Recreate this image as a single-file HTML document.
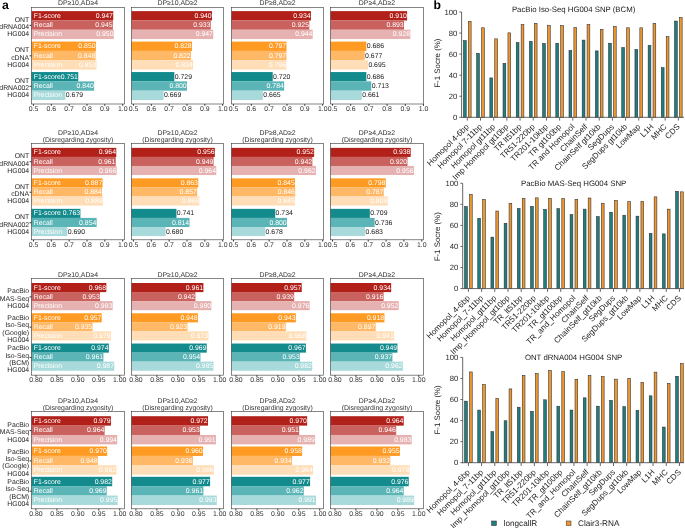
<!DOCTYPE html>
<html><head><meta charset="utf-8"><title>figure</title>
<style>
html,body{margin:0;padding:0;background:#fff;}
body{width:685px;height:528px;overflow:hidden;}
svg{display:block;font-family:"Liberation Sans", sans-serif;will-change:transform;text-rendering:geometricPrecision;}
</style></head>
<body>
<svg width="685" height="528" viewBox="0 0 685 528">
<rect x="0" y="0" width="685" height="528" fill="#ffffff"/>
<text x="77.97" y="4.90" font-size="6.9" text-anchor="middle" fill="#333333" >DP≥10,AD≥4</text>
<rect x="31.48" y="11.12" width="81.76" height="9.35" fill="#B2201A" />
<text x="33.68" y="17.87" font-size="6.9" text-anchor="start" fill="#FFFFFF" >F1-score</text>
<text x="112.94" y="17.87" font-size="6.9" text-anchor="end" fill="#FFFFFF" >0.947</text>
<rect x="31.48" y="20.42" width="81.40" height="9.35" fill="#C9625E" />
<text x="33.68" y="27.17" font-size="6.9" text-anchor="start" fill="#FFFFFF" >Recall</text>
<text x="112.58" y="27.17" font-size="6.9" text-anchor="end" fill="#FFFFFF" >0.945</text>
<rect x="31.48" y="29.72" width="82.29" height="9.35" fill="#E6B2B1" />
<text x="33.68" y="36.47" font-size="6.9" text-anchor="start" fill="#FFFFFF" >Precision</text>
<text x="113.47" y="36.47" font-size="6.9" text-anchor="end" fill="#FFFFFF" >0.950</text>
<rect x="31.48" y="41.59" width="64.44" height="9.35" fill="#FF9A22" />
<text x="33.68" y="48.34" font-size="6.9" text-anchor="start" fill="#FFFFFF" >F1-score</text>
<text x="95.62" y="48.34" font-size="6.9" text-anchor="end" fill="#FFFFFF" >0.850</text>
<rect x="31.48" y="50.89" width="64.09" height="9.35" fill="#FFB866" />
<text x="33.68" y="57.64" font-size="6.9" text-anchor="start" fill="#FFFFFF" >Recall</text>
<text x="95.27" y="57.64" font-size="6.9" text-anchor="end" fill="#FFFFFF" >0.848</text>
<rect x="31.48" y="60.19" width="64.98" height="9.35" fill="#FFDDB6" />
<text x="33.68" y="66.94" font-size="6.9" text-anchor="start" fill="#FFFFFF" >Precision</text>
<text x="96.16" y="66.94" font-size="6.9" text-anchor="end" fill="#FFFFFF" >0.853</text>
<rect x="31.48" y="72.06" width="46.77" height="9.35" fill="#138A8C" />
<text x="33.68" y="78.81" font-size="6.9" text-anchor="start" fill="#FFFFFF" >F1-score</text>
<text x="77.95" y="78.81" font-size="6.9" text-anchor="end" fill="#FFFFFF" >0.751</text>
<rect x="31.48" y="81.36" width="62.66" height="9.35" fill="#5BB5B7" />
<text x="33.68" y="88.11" font-size="6.9" text-anchor="start" fill="#FFFFFF" >Recall</text>
<text x="93.84" y="88.11" font-size="6.9" text-anchor="end" fill="#FFFFFF" >0.840</text>
<rect x="31.48" y="90.66" width="33.92" height="9.35" fill="#A9DADB" />
<text x="33.68" y="97.41" font-size="6.9" text-anchor="start" fill="#FFFFFF" >Precision</text>
<text x="65.80" y="97.41" font-size="6.9" text-anchor="start" fill="#1A1A1A" >0.679</text>
<rect x="31.48" y="7.50" width="92.97" height="96.50" fill="none" stroke="#3A3A3A" stroke-width="0.62"/>
<line x1="33.45" y1="104.00" x2="33.45" y2="105.80" stroke="#333333" stroke-width="1.0"/>
<text x="33.45" y="110.95" font-size="6.9" text-anchor="middle" fill="#333333" >0.5</text>
<line x1="51.30" y1="104.00" x2="51.30" y2="105.80" stroke="#333333" stroke-width="1.0"/>
<text x="51.30" y="110.95" font-size="6.9" text-anchor="middle" fill="#333333" >0.6</text>
<line x1="69.15" y1="104.00" x2="69.15" y2="105.80" stroke="#333333" stroke-width="1.0"/>
<text x="69.15" y="110.95" font-size="6.9" text-anchor="middle" fill="#333333" >0.7</text>
<line x1="87.00" y1="104.00" x2="87.00" y2="105.80" stroke="#333333" stroke-width="1.0"/>
<text x="87.00" y="110.95" font-size="6.9" text-anchor="middle" fill="#333333" >0.8</text>
<line x1="104.85" y1="104.00" x2="104.85" y2="105.80" stroke="#333333" stroke-width="1.0"/>
<text x="104.85" y="110.95" font-size="6.9" text-anchor="middle" fill="#333333" >0.9</text>
<line x1="122.70" y1="104.00" x2="122.70" y2="105.80" stroke="#333333" stroke-width="1.0"/>
<text x="122.70" y="110.95" font-size="6.9" text-anchor="middle" fill="#333333" >1.0</text>
<line x1="29.58" y1="25.37" x2="31.48" y2="25.37" stroke="#333333" stroke-width="1.0"/>
<text x="29.18" y="21.87" font-size="6.9" text-anchor="end" fill="#1F1F1F" >ONT</text>
<text x="29.18" y="29.17" font-size="6.9" text-anchor="end" fill="#1F1F1F" >dRNA004</text>
<text x="29.18" y="36.47" font-size="6.9" text-anchor="end" fill="#1F1F1F" >HG004</text>
<line x1="29.58" y1="55.84" x2="31.48" y2="55.84" stroke="#333333" stroke-width="1.0"/>
<text x="29.18" y="52.34" font-size="6.9" text-anchor="end" fill="#1F1F1F" >ONT</text>
<text x="29.18" y="59.64" font-size="6.9" text-anchor="end" fill="#1F1F1F" >cDNA</text>
<text x="29.18" y="66.94" font-size="6.9" text-anchor="end" fill="#1F1F1F" >HG004</text>
<line x1="29.58" y1="86.31" x2="31.48" y2="86.31" stroke="#333333" stroke-width="1.0"/>
<text x="29.18" y="82.81" font-size="6.9" text-anchor="end" fill="#1F1F1F" >ONT</text>
<text x="29.18" y="90.11" font-size="6.9" text-anchor="end" fill="#1F1F1F" >dRNA002</text>
<text x="29.18" y="97.41" font-size="6.9" text-anchor="end" fill="#1F1F1F" >HG004</text>
<text x="177.56" y="4.90" font-size="6.9" text-anchor="middle" fill="#333333" >DP≥10,AD≥2</text>
<rect x="131.48" y="11.12" width="80.51" height="9.35" fill="#B2201A" />
<text x="211.69" y="17.87" font-size="6.9" text-anchor="end" fill="#FFFFFF" >0.940</text>
<rect x="131.48" y="20.42" width="79.26" height="9.35" fill="#C9625E" />
<text x="210.44" y="27.17" font-size="6.9" text-anchor="end" fill="#FFFFFF" >0.933</text>
<rect x="131.48" y="29.72" width="81.76" height="9.35" fill="#E6B2B1" />
<text x="212.94" y="36.47" font-size="6.9" text-anchor="end" fill="#FFFFFF" >0.947</text>
<rect x="131.48" y="41.59" width="60.52" height="9.35" fill="#FF9A22" />
<text x="191.70" y="48.34" font-size="6.9" text-anchor="end" fill="#FFFFFF" >0.828</text>
<rect x="131.48" y="50.89" width="59.45" height="9.35" fill="#FFB866" />
<text x="190.63" y="57.64" font-size="6.9" text-anchor="end" fill="#FFFFFF" >0.822</text>
<rect x="131.48" y="60.19" width="61.59" height="9.35" fill="#FFDDB6" />
<text x="192.77" y="66.94" font-size="6.9" text-anchor="end" fill="#FFFFFF" >0.834</text>
<rect x="131.48" y="72.06" width="42.85" height="9.35" fill="#138A8C" />
<text x="174.73" y="78.81" font-size="6.9" text-anchor="start" fill="#1A1A1A" >0.729</text>
<rect x="131.48" y="81.36" width="55.52" height="9.35" fill="#5BB5B7" />
<text x="186.70" y="88.11" font-size="6.9" text-anchor="end" fill="#FFFFFF" >0.800</text>
<rect x="131.48" y="90.66" width="32.14" height="9.35" fill="#A9DADB" />
<text x="164.02" y="97.41" font-size="6.9" text-anchor="start" fill="#1A1A1A" >0.669</text>
<rect x="131.48" y="7.50" width="92.17" height="96.50" fill="none" stroke="#3A3A3A" stroke-width="0.62"/>
<line x1="133.45" y1="104.00" x2="133.45" y2="105.80" stroke="#333333" stroke-width="1.0"/>
<text x="133.45" y="110.95" font-size="6.9" text-anchor="middle" fill="#333333" >0.5</text>
<line x1="151.30" y1="104.00" x2="151.30" y2="105.80" stroke="#333333" stroke-width="1.0"/>
<text x="151.30" y="110.95" font-size="6.9" text-anchor="middle" fill="#333333" >0.6</text>
<line x1="169.15" y1="104.00" x2="169.15" y2="105.80" stroke="#333333" stroke-width="1.0"/>
<text x="169.15" y="110.95" font-size="6.9" text-anchor="middle" fill="#333333" >0.7</text>
<line x1="187.00" y1="104.00" x2="187.00" y2="105.80" stroke="#333333" stroke-width="1.0"/>
<text x="187.00" y="110.95" font-size="6.9" text-anchor="middle" fill="#333333" >0.8</text>
<line x1="204.85" y1="104.00" x2="204.85" y2="105.80" stroke="#333333" stroke-width="1.0"/>
<text x="204.85" y="110.95" font-size="6.9" text-anchor="middle" fill="#333333" >0.9</text>
<line x1="222.70" y1="104.00" x2="222.70" y2="105.80" stroke="#333333" stroke-width="1.0"/>
<text x="222.70" y="110.95" font-size="6.9" text-anchor="middle" fill="#333333" >1.0</text>
<text x="277.56" y="4.90" font-size="6.9" text-anchor="middle" fill="#333333" >DP≥8,AD≥2</text>
<rect x="231.48" y="11.12" width="79.44" height="9.35" fill="#B2201A" />
<text x="310.62" y="17.87" font-size="6.9" text-anchor="end" fill="#FFFFFF" >0.934</text>
<rect x="231.48" y="20.42" width="77.83" height="9.35" fill="#C9625E" />
<text x="309.01" y="27.17" font-size="6.9" text-anchor="end" fill="#FFFFFF" >0.925</text>
<rect x="231.48" y="29.72" width="81.22" height="9.35" fill="#E6B2B1" />
<text x="312.40" y="36.47" font-size="6.9" text-anchor="end" fill="#FFFFFF" >0.944</text>
<rect x="231.48" y="41.59" width="54.98" height="9.35" fill="#FF9A22" />
<text x="286.16" y="48.34" font-size="6.9" text-anchor="end" fill="#FFFFFF" >0.797</text>
<rect x="231.48" y="50.89" width="54.98" height="9.35" fill="#FFB866" />
<text x="286.16" y="57.64" font-size="6.9" text-anchor="end" fill="#FFFFFF" >0.797</text>
<rect x="231.48" y="60.19" width="54.81" height="9.35" fill="#FFDDB6" />
<text x="285.99" y="66.94" font-size="6.9" text-anchor="end" fill="#FFFFFF" >0.796</text>
<rect x="231.48" y="72.06" width="41.24" height="9.35" fill="#138A8C" />
<text x="273.12" y="78.81" font-size="6.9" text-anchor="start" fill="#1A1A1A" >0.720</text>
<rect x="231.48" y="81.36" width="52.66" height="9.35" fill="#5BB5B7" />
<text x="283.84" y="88.11" font-size="6.9" text-anchor="end" fill="#FFFFFF" >0.784</text>
<rect x="231.48" y="90.66" width="31.42" height="9.35" fill="#A9DADB" />
<text x="263.30" y="97.41" font-size="6.9" text-anchor="start" fill="#1A1A1A" >0.665</text>
<rect x="231.48" y="7.50" width="92.17" height="96.50" fill="none" stroke="#3A3A3A" stroke-width="0.62"/>
<line x1="233.45" y1="104.00" x2="233.45" y2="105.80" stroke="#333333" stroke-width="1.0"/>
<text x="233.45" y="110.95" font-size="6.9" text-anchor="middle" fill="#333333" >0.5</text>
<line x1="251.30" y1="104.00" x2="251.30" y2="105.80" stroke="#333333" stroke-width="1.0"/>
<text x="251.30" y="110.95" font-size="6.9" text-anchor="middle" fill="#333333" >0.6</text>
<line x1="269.15" y1="104.00" x2="269.15" y2="105.80" stroke="#333333" stroke-width="1.0"/>
<text x="269.15" y="110.95" font-size="6.9" text-anchor="middle" fill="#333333" >0.7</text>
<line x1="287.00" y1="104.00" x2="287.00" y2="105.80" stroke="#333333" stroke-width="1.0"/>
<text x="287.00" y="110.95" font-size="6.9" text-anchor="middle" fill="#333333" >0.8</text>
<line x1="304.85" y1="104.00" x2="304.85" y2="105.80" stroke="#333333" stroke-width="1.0"/>
<text x="304.85" y="110.95" font-size="6.9" text-anchor="middle" fill="#333333" >0.9</text>
<line x1="322.70" y1="104.00" x2="322.70" y2="105.80" stroke="#333333" stroke-width="1.0"/>
<text x="322.70" y="110.95" font-size="6.9" text-anchor="middle" fill="#333333" >1.0</text>
<text x="376.98" y="4.90" font-size="6.9" text-anchor="middle" fill="#333333" >DP≥4,AD≥2</text>
<rect x="330.55" y="11.12" width="76.55" height="9.35" fill="#B2201A" />
<text x="406.80" y="17.87" font-size="6.9" text-anchor="end" fill="#FFFFFF" >0.910</text>
<rect x="330.55" y="20.42" width="73.46" height="9.35" fill="#C9625E" />
<text x="403.71" y="27.17" font-size="6.9" text-anchor="end" fill="#FFFFFF" >0.893</text>
<rect x="330.55" y="29.72" width="79.82" height="9.35" fill="#E6B2B1" />
<text x="410.07" y="36.47" font-size="6.9" text-anchor="end" fill="#FFFFFF" >0.928</text>
<rect x="330.55" y="41.59" width="35.80" height="9.35" fill="#FF9A22" />
<text x="366.75" y="48.34" font-size="6.9" text-anchor="start" fill="#1A1A1A" >0.686</text>
<rect x="330.55" y="50.89" width="34.17" height="9.35" fill="#FFB866" />
<text x="365.12" y="57.64" font-size="6.9" text-anchor="start" fill="#1A1A1A" >0.677</text>
<rect x="330.55" y="60.19" width="37.44" height="9.35" fill="#FFDDB6" />
<text x="368.39" y="66.94" font-size="6.9" text-anchor="start" fill="#1A1A1A" >0.695</text>
<rect x="330.55" y="72.06" width="35.80" height="9.35" fill="#138A8C" />
<text x="366.75" y="78.81" font-size="6.9" text-anchor="start" fill="#1A1A1A" >0.686</text>
<rect x="330.55" y="81.36" width="40.71" height="9.35" fill="#5BB5B7" />
<text x="371.66" y="88.11" font-size="6.9" text-anchor="start" fill="#1A1A1A" >0.713</text>
<rect x="330.55" y="90.66" width="31.26" height="9.35" fill="#A9DADB" />
<text x="362.21" y="97.41" font-size="6.9" text-anchor="start" fill="#1A1A1A" >0.661</text>
<rect x="330.55" y="7.50" width="92.85" height="96.50" fill="none" stroke="#3A3A3A" stroke-width="0.62"/>
<line x1="332.52" y1="104.00" x2="332.52" y2="105.80" stroke="#333333" stroke-width="1.0"/>
<text x="332.52" y="110.95" font-size="6.9" text-anchor="middle" fill="#333333" >0.5</text>
<line x1="350.71" y1="104.00" x2="350.71" y2="105.80" stroke="#333333" stroke-width="1.0"/>
<text x="350.71" y="110.95" font-size="6.9" text-anchor="middle" fill="#333333" >0.6</text>
<line x1="368.90" y1="104.00" x2="368.90" y2="105.80" stroke="#333333" stroke-width="1.0"/>
<text x="368.90" y="110.95" font-size="6.9" text-anchor="middle" fill="#333333" >0.7</text>
<line x1="387.09" y1="104.00" x2="387.09" y2="105.80" stroke="#333333" stroke-width="1.0"/>
<text x="387.09" y="110.95" font-size="6.9" text-anchor="middle" fill="#333333" >0.8</text>
<line x1="405.28" y1="104.00" x2="405.28" y2="105.80" stroke="#333333" stroke-width="1.0"/>
<text x="405.28" y="110.95" font-size="6.9" text-anchor="middle" fill="#333333" >0.9</text>
<line x1="423.47" y1="104.00" x2="423.47" y2="105.80" stroke="#333333" stroke-width="1.0"/>
<text x="423.47" y="110.95" font-size="6.9" text-anchor="middle" fill="#333333" >1.0</text>
<text x="77.97" y="134.75" font-size="6.9" text-anchor="middle" fill="#333333" >DP≥10,AD≥4</text>
<text x="77.97" y="141.75" font-size="6.9" text-anchor="middle" fill="#333333" >(Disregarding zygosity)</text>
<rect x="31.48" y="147.85" width="84.79" height="9.10" fill="#B2201A" />
<text x="33.68" y="154.47" font-size="6.9" text-anchor="start" fill="#FFFFFF" >F1-score</text>
<text x="115.97" y="154.47" font-size="6.9" text-anchor="end" fill="#FFFFFF" >0.964</text>
<rect x="31.48" y="156.90" width="84.26" height="9.10" fill="#C9625E" />
<text x="33.68" y="163.53" font-size="6.9" text-anchor="start" fill="#FFFFFF" >Recall</text>
<text x="115.44" y="163.53" font-size="6.9" text-anchor="end" fill="#FFFFFF" >0.961</text>
<rect x="31.48" y="165.95" width="85.15" height="9.10" fill="#E6B2B1" />
<text x="33.68" y="172.57" font-size="6.9" text-anchor="start" fill="#FFFFFF" >Precision</text>
<text x="116.33" y="172.57" font-size="6.9" text-anchor="end" fill="#FFFFFF" >0.966</text>
<rect x="31.48" y="178.35" width="71.05" height="9.10" fill="#FF9A22" />
<text x="33.68" y="184.97" font-size="6.9" text-anchor="start" fill="#FFFFFF" >F1-score</text>
<text x="102.23" y="184.97" font-size="6.9" text-anchor="end" fill="#FFFFFF" >0.887</text>
<rect x="31.48" y="187.40" width="70.51" height="9.10" fill="#FFB866" />
<text x="33.68" y="194.03" font-size="6.9" text-anchor="start" fill="#FFFFFF" >Recall</text>
<text x="101.69" y="194.03" font-size="6.9" text-anchor="end" fill="#FFFFFF" >0.884</text>
<rect x="31.48" y="196.45" width="71.41" height="9.10" fill="#FFDDB6" />
<text x="33.68" y="203.07" font-size="6.9" text-anchor="start" fill="#FFFFFF" >Precision</text>
<text x="102.59" y="203.07" font-size="6.9" text-anchor="end" fill="#FFFFFF" >0.889</text>
<rect x="31.48" y="208.85" width="48.92" height="9.10" fill="#138A8C" />
<text x="33.68" y="215.47" font-size="6.9" text-anchor="start" fill="#FFFFFF" >F1-score</text>
<text x="80.10" y="215.47" font-size="6.9" text-anchor="end" fill="#FFFFFF" >0.763</text>
<rect x="31.48" y="217.90" width="65.16" height="9.10" fill="#5BB5B7" />
<text x="33.68" y="224.53" font-size="6.9" text-anchor="start" fill="#FFFFFF" >Recall</text>
<text x="96.34" y="224.53" font-size="6.9" text-anchor="end" fill="#FFFFFF" >0.854</text>
<rect x="31.48" y="226.95" width="35.88" height="9.10" fill="#A9DADB" />
<text x="33.68" y="233.57" font-size="6.9" text-anchor="start" fill="#FFFFFF" >Precision</text>
<text x="67.77" y="233.57" font-size="6.9" text-anchor="start" fill="#1A1A1A" >0.690</text>
<rect x="31.48" y="143.45" width="92.97" height="96.35" fill="none" stroke="#3A3A3A" stroke-width="0.62"/>
<line x1="33.45" y1="239.80" x2="33.45" y2="241.60" stroke="#333333" stroke-width="1.0"/>
<text x="33.45" y="246.75" font-size="6.9" text-anchor="middle" fill="#333333" >0.5</text>
<line x1="51.30" y1="239.80" x2="51.30" y2="241.60" stroke="#333333" stroke-width="1.0"/>
<text x="51.30" y="246.75" font-size="6.9" text-anchor="middle" fill="#333333" >0.6</text>
<line x1="69.15" y1="239.80" x2="69.15" y2="241.60" stroke="#333333" stroke-width="1.0"/>
<text x="69.15" y="246.75" font-size="6.9" text-anchor="middle" fill="#333333" >0.7</text>
<line x1="87.00" y1="239.80" x2="87.00" y2="241.60" stroke="#333333" stroke-width="1.0"/>
<text x="87.00" y="246.75" font-size="6.9" text-anchor="middle" fill="#333333" >0.8</text>
<line x1="104.85" y1="239.80" x2="104.85" y2="241.60" stroke="#333333" stroke-width="1.0"/>
<text x="104.85" y="246.75" font-size="6.9" text-anchor="middle" fill="#333333" >0.9</text>
<line x1="122.70" y1="239.80" x2="122.70" y2="241.60" stroke="#333333" stroke-width="1.0"/>
<text x="122.70" y="246.75" font-size="6.9" text-anchor="middle" fill="#333333" >1.0</text>
<line x1="29.58" y1="161.72" x2="31.48" y2="161.72" stroke="#333333" stroke-width="1.0"/>
<text x="29.18" y="158.22" font-size="6.9" text-anchor="end" fill="#1F1F1F" >ONT</text>
<text x="29.18" y="165.53" font-size="6.9" text-anchor="end" fill="#1F1F1F" >dRNA004</text>
<text x="29.18" y="172.83" font-size="6.9" text-anchor="end" fill="#1F1F1F" >HG004</text>
<line x1="29.58" y1="192.22" x2="31.48" y2="192.22" stroke="#333333" stroke-width="1.0"/>
<text x="29.18" y="188.72" font-size="6.9" text-anchor="end" fill="#1F1F1F" >ONT</text>
<text x="29.18" y="196.03" font-size="6.9" text-anchor="end" fill="#1F1F1F" >cDNA</text>
<text x="29.18" y="203.33" font-size="6.9" text-anchor="end" fill="#1F1F1F" >HG004</text>
<line x1="29.58" y1="222.72" x2="31.48" y2="222.72" stroke="#333333" stroke-width="1.0"/>
<text x="29.18" y="219.22" font-size="6.9" text-anchor="end" fill="#1F1F1F" >ONT</text>
<text x="29.18" y="226.53" font-size="6.9" text-anchor="end" fill="#1F1F1F" >dRNA002</text>
<text x="29.18" y="233.83" font-size="6.9" text-anchor="end" fill="#1F1F1F" >HG004</text>
<text x="177.56" y="134.75" font-size="6.9" text-anchor="middle" fill="#333333" >DP≥10,AD≥2</text>
<text x="177.56" y="141.75" font-size="6.9" text-anchor="middle" fill="#333333" >(Disregarding zygosity)</text>
<rect x="131.48" y="147.85" width="83.37" height="9.10" fill="#B2201A" />
<text x="214.55" y="154.47" font-size="6.9" text-anchor="end" fill="#FFFFFF" >0.956</text>
<rect x="131.48" y="156.90" width="82.12" height="9.10" fill="#C9625E" />
<text x="213.30" y="163.53" font-size="6.9" text-anchor="end" fill="#FFFFFF" >0.949</text>
<rect x="131.48" y="165.95" width="84.79" height="9.10" fill="#E6B2B1" />
<text x="215.97" y="172.57" font-size="6.9" text-anchor="end" fill="#FFFFFF" >0.964</text>
<rect x="131.48" y="178.35" width="66.77" height="9.10" fill="#FF9A22" />
<text x="197.95" y="184.97" font-size="6.9" text-anchor="end" fill="#FFFFFF" >0.863</text>
<rect x="131.48" y="187.40" width="65.69" height="9.10" fill="#FFB866" />
<text x="196.87" y="194.03" font-size="6.9" text-anchor="end" fill="#FFFFFF" >0.857</text>
<rect x="131.48" y="196.45" width="67.84" height="9.10" fill="#FFDDB6" />
<text x="199.02" y="203.07" font-size="6.9" text-anchor="end" fill="#FFFFFF" >0.869</text>
<rect x="131.48" y="208.85" width="44.99" height="9.10" fill="#138A8C" />
<text x="176.87" y="215.47" font-size="6.9" text-anchor="start" fill="#1A1A1A" >0.741</text>
<rect x="131.48" y="217.90" width="58.02" height="9.10" fill="#5BB5B7" />
<text x="189.20" y="224.53" font-size="6.9" text-anchor="end" fill="#FFFFFF" >0.814</text>
<rect x="131.48" y="226.95" width="34.10" height="9.10" fill="#A9DADB" />
<text x="165.98" y="233.57" font-size="6.9" text-anchor="start" fill="#1A1A1A" >0.680</text>
<rect x="131.48" y="143.45" width="92.17" height="96.35" fill="none" stroke="#3A3A3A" stroke-width="0.62"/>
<line x1="133.45" y1="239.80" x2="133.45" y2="241.60" stroke="#333333" stroke-width="1.0"/>
<text x="133.45" y="246.75" font-size="6.9" text-anchor="middle" fill="#333333" >0.5</text>
<line x1="151.30" y1="239.80" x2="151.30" y2="241.60" stroke="#333333" stroke-width="1.0"/>
<text x="151.30" y="246.75" font-size="6.9" text-anchor="middle" fill="#333333" >0.6</text>
<line x1="169.15" y1="239.80" x2="169.15" y2="241.60" stroke="#333333" stroke-width="1.0"/>
<text x="169.15" y="246.75" font-size="6.9" text-anchor="middle" fill="#333333" >0.7</text>
<line x1="187.00" y1="239.80" x2="187.00" y2="241.60" stroke="#333333" stroke-width="1.0"/>
<text x="187.00" y="246.75" font-size="6.9" text-anchor="middle" fill="#333333" >0.8</text>
<line x1="204.85" y1="239.80" x2="204.85" y2="241.60" stroke="#333333" stroke-width="1.0"/>
<text x="204.85" y="246.75" font-size="6.9" text-anchor="middle" fill="#333333" >0.9</text>
<line x1="222.70" y1="239.80" x2="222.70" y2="241.60" stroke="#333333" stroke-width="1.0"/>
<text x="222.70" y="246.75" font-size="6.9" text-anchor="middle" fill="#333333" >1.0</text>
<text x="277.56" y="134.75" font-size="6.9" text-anchor="middle" fill="#333333" >DP≥8,AD≥2</text>
<text x="277.56" y="141.75" font-size="6.9" text-anchor="middle" fill="#333333" >(Disregarding zygosity)</text>
<rect x="231.48" y="147.85" width="82.65" height="9.10" fill="#B2201A" />
<text x="313.83" y="154.47" font-size="6.9" text-anchor="end" fill="#FFFFFF" >0.952</text>
<rect x="231.48" y="156.90" width="80.87" height="9.10" fill="#C9625E" />
<text x="312.05" y="163.53" font-size="6.9" text-anchor="end" fill="#FFFFFF" >0.942</text>
<rect x="231.48" y="165.95" width="84.44" height="9.10" fill="#E6B2B1" />
<text x="315.62" y="172.57" font-size="6.9" text-anchor="end" fill="#FFFFFF" >0.962</text>
<rect x="231.48" y="178.35" width="63.55" height="9.10" fill="#FF9A22" />
<text x="294.73" y="184.97" font-size="6.9" text-anchor="end" fill="#FFFFFF" >0.845</text>
<rect x="231.48" y="187.40" width="63.73" height="9.10" fill="#FFB866" />
<text x="294.91" y="194.03" font-size="6.9" text-anchor="end" fill="#FFFFFF" >0.846</text>
<rect x="231.48" y="196.45" width="63.55" height="9.10" fill="#FFDDB6" />
<text x="294.73" y="203.07" font-size="6.9" text-anchor="end" fill="#FFFFFF" >0.845</text>
<rect x="231.48" y="208.85" width="43.74" height="9.10" fill="#138A8C" />
<text x="275.62" y="215.47" font-size="6.9" text-anchor="start" fill="#1A1A1A" >0.734</text>
<rect x="231.48" y="217.90" width="55.52" height="9.10" fill="#5BB5B7" />
<text x="286.70" y="224.53" font-size="6.9" text-anchor="end" fill="#FFFFFF" >0.800</text>
<rect x="231.48" y="226.95" width="33.74" height="9.10" fill="#A9DADB" />
<text x="265.62" y="233.57" font-size="6.9" text-anchor="start" fill="#1A1A1A" >0.678</text>
<rect x="231.48" y="143.45" width="92.17" height="96.35" fill="none" stroke="#3A3A3A" stroke-width="0.62"/>
<line x1="233.45" y1="239.80" x2="233.45" y2="241.60" stroke="#333333" stroke-width="1.0"/>
<text x="233.45" y="246.75" font-size="6.9" text-anchor="middle" fill="#333333" >0.5</text>
<line x1="251.30" y1="239.80" x2="251.30" y2="241.60" stroke="#333333" stroke-width="1.0"/>
<text x="251.30" y="246.75" font-size="6.9" text-anchor="middle" fill="#333333" >0.6</text>
<line x1="269.15" y1="239.80" x2="269.15" y2="241.60" stroke="#333333" stroke-width="1.0"/>
<text x="269.15" y="246.75" font-size="6.9" text-anchor="middle" fill="#333333" >0.7</text>
<line x1="287.00" y1="239.80" x2="287.00" y2="241.60" stroke="#333333" stroke-width="1.0"/>
<text x="287.00" y="246.75" font-size="6.9" text-anchor="middle" fill="#333333" >0.8</text>
<line x1="304.85" y1="239.80" x2="304.85" y2="241.60" stroke="#333333" stroke-width="1.0"/>
<text x="304.85" y="246.75" font-size="6.9" text-anchor="middle" fill="#333333" >0.9</text>
<line x1="322.70" y1="239.80" x2="322.70" y2="241.60" stroke="#333333" stroke-width="1.0"/>
<text x="322.70" y="246.75" font-size="6.9" text-anchor="middle" fill="#333333" >1.0</text>
<text x="376.98" y="134.75" font-size="6.9" text-anchor="middle" fill="#333333" >DP≥4,AD≥2</text>
<text x="376.98" y="141.75" font-size="6.9" text-anchor="middle" fill="#333333" >(Disregarding zygosity)</text>
<rect x="330.55" y="147.85" width="80.15" height="9.10" fill="#B2201A" />
<text x="410.40" y="154.47" font-size="6.9" text-anchor="end" fill="#FFFFFF" >0.938</text>
<rect x="330.55" y="156.90" width="76.94" height="9.10" fill="#C9625E" />
<text x="407.19" y="163.53" font-size="6.9" text-anchor="end" fill="#FFFFFF" >0.920</text>
<rect x="330.55" y="165.95" width="83.37" height="9.10" fill="#E6B2B1" />
<text x="413.62" y="172.57" font-size="6.9" text-anchor="end" fill="#FFFFFF" >0.956</text>
<rect x="330.55" y="178.35" width="55.16" height="9.10" fill="#FF9A22" />
<text x="385.41" y="184.97" font-size="6.9" text-anchor="end" fill="#FFFFFF" >0.798</text>
<rect x="330.55" y="187.40" width="53.20" height="9.10" fill="#FFB866" />
<text x="383.45" y="194.03" font-size="6.9" text-anchor="end" fill="#FFFFFF" >0.787</text>
<rect x="330.55" y="196.45" width="57.13" height="9.10" fill="#FFDDB6" />
<text x="387.38" y="203.07" font-size="6.9" text-anchor="end" fill="#FFFFFF" >0.809</text>
<rect x="330.55" y="208.85" width="39.28" height="9.10" fill="#138A8C" />
<text x="370.23" y="215.47" font-size="6.9" text-anchor="start" fill="#1A1A1A" >0.709</text>
<rect x="330.55" y="217.90" width="44.10" height="9.10" fill="#5BB5B7" />
<text x="375.05" y="224.53" font-size="6.9" text-anchor="start" fill="#1A1A1A" >0.736</text>
<rect x="330.55" y="226.95" width="34.64" height="9.10" fill="#A9DADB" />
<text x="365.59" y="233.57" font-size="6.9" text-anchor="start" fill="#1A1A1A" >0.683</text>
<rect x="330.55" y="143.45" width="92.85" height="96.35" fill="none" stroke="#3A3A3A" stroke-width="0.62"/>
<line x1="332.52" y1="239.80" x2="332.52" y2="241.60" stroke="#333333" stroke-width="1.0"/>
<text x="332.52" y="246.75" font-size="6.9" text-anchor="middle" fill="#333333" >0.5</text>
<line x1="350.37" y1="239.80" x2="350.37" y2="241.60" stroke="#333333" stroke-width="1.0"/>
<text x="350.37" y="246.75" font-size="6.9" text-anchor="middle" fill="#333333" >0.6</text>
<line x1="368.22" y1="239.80" x2="368.22" y2="241.60" stroke="#333333" stroke-width="1.0"/>
<text x="368.22" y="246.75" font-size="6.9" text-anchor="middle" fill="#333333" >0.7</text>
<line x1="386.07" y1="239.80" x2="386.07" y2="241.60" stroke="#333333" stroke-width="1.0"/>
<text x="386.07" y="246.75" font-size="6.9" text-anchor="middle" fill="#333333" >0.8</text>
<line x1="403.92" y1="239.80" x2="403.92" y2="241.60" stroke="#333333" stroke-width="1.0"/>
<text x="403.92" y="246.75" font-size="6.9" text-anchor="middle" fill="#333333" >0.9</text>
<line x1="421.77" y1="239.80" x2="421.77" y2="241.60" stroke="#333333" stroke-width="1.0"/>
<text x="421.77" y="246.75" font-size="6.9" text-anchor="middle" fill="#333333" >1.0</text>
<text x="77.97" y="276.67" font-size="6.9" text-anchor="middle" fill="#333333" >DP≥10,AD≥4</text>
<rect x="31.48" y="283.00" width="74.84" height="9.10" fill="#B2201A" />
<text x="33.68" y="289.62" font-size="6.9" text-anchor="start" fill="#FFFFFF" >F1-score</text>
<text x="106.02" y="289.62" font-size="6.9" text-anchor="end" fill="#FFFFFF" >0.968</text>
<rect x="31.48" y="292.05" width="68.56" height="9.10" fill="#C9625E" />
<text x="33.68" y="298.68" font-size="6.9" text-anchor="start" fill="#FFFFFF" >Recall</text>
<text x="99.74" y="298.68" font-size="6.9" text-anchor="end" fill="#FFFFFF" >0.953</text>
<rect x="31.48" y="301.10" width="81.13" height="9.10" fill="#E6B2B1" />
<text x="33.68" y="307.73" font-size="6.9" text-anchor="start" fill="#FFFFFF" >Precision</text>
<text x="112.31" y="307.73" font-size="6.9" text-anchor="end" fill="#FFFFFF" >0.983</text>
<rect x="31.48" y="313.27" width="70.23" height="9.10" fill="#FF9A22" />
<text x="33.68" y="319.89" font-size="6.9" text-anchor="start" fill="#FFFFFF" >F1-score</text>
<text x="101.41" y="319.89" font-size="6.9" text-anchor="end" fill="#FFFFFF" >0.957</text>
<rect x="31.48" y="322.32" width="61.02" height="9.10" fill="#FFB866" />
<text x="33.68" y="328.94" font-size="6.9" text-anchor="start" fill="#FFFFFF" >Recall</text>
<text x="92.20" y="328.94" font-size="6.9" text-anchor="end" fill="#FFFFFF" >0.935</text>
<rect x="31.48" y="331.37" width="79.45" height="9.10" fill="#FFDDB6" />
<text x="33.68" y="338.00" font-size="6.9" text-anchor="start" fill="#FFFFFF" >Precision</text>
<text x="110.63" y="338.00" font-size="6.9" text-anchor="end" fill="#FFFFFF" >0.979</text>
<rect x="31.48" y="343.54" width="77.36" height="9.10" fill="#138A8C" />
<text x="33.68" y="350.17" font-size="6.9" text-anchor="start" fill="#FFFFFF" >F1-score</text>
<text x="108.54" y="350.17" font-size="6.9" text-anchor="end" fill="#FFFFFF" >0.974</text>
<rect x="31.48" y="352.59" width="71.91" height="9.10" fill="#5BB5B7" />
<text x="33.68" y="359.22" font-size="6.9" text-anchor="start" fill="#FFFFFF" >Recall</text>
<text x="103.09" y="359.22" font-size="6.9" text-anchor="end" fill="#FFFFFF" >0.961</text>
<rect x="31.48" y="361.64" width="82.80" height="9.10" fill="#A9DADB" />
<text x="33.68" y="368.27" font-size="6.9" text-anchor="start" fill="#FFFFFF" >Precision</text>
<text x="113.98" y="368.27" font-size="6.9" text-anchor="end" fill="#FFFFFF" >0.987</text>
<rect x="31.48" y="278.67" width="92.97" height="96.48" fill="none" stroke="#3A3A3A" stroke-width="0.62"/>
<line x1="35.93" y1="375.15" x2="35.93" y2="376.95" stroke="#333333" stroke-width="1.0"/>
<text x="35.93" y="382.10" font-size="6.9" text-anchor="middle" fill="#333333" >0.80</text>
<line x1="56.88" y1="375.15" x2="56.88" y2="376.95" stroke="#333333" stroke-width="1.0"/>
<text x="56.88" y="382.10" font-size="6.9" text-anchor="middle" fill="#333333" >0.85</text>
<line x1="77.83" y1="375.15" x2="77.83" y2="376.95" stroke="#333333" stroke-width="1.0"/>
<text x="77.83" y="382.10" font-size="6.9" text-anchor="middle" fill="#333333" >0.90</text>
<line x1="98.78" y1="375.15" x2="98.78" y2="376.95" stroke="#333333" stroke-width="1.0"/>
<text x="98.78" y="382.10" font-size="6.9" text-anchor="middle" fill="#333333" >0.95</text>
<line x1="119.73" y1="375.15" x2="119.73" y2="376.95" stroke="#333333" stroke-width="1.0"/>
<text x="119.73" y="382.10" font-size="6.9" text-anchor="middle" fill="#333333" >1.00</text>
<line x1="29.58" y1="296.88" x2="31.48" y2="296.88" stroke="#333333" stroke-width="1.0"/>
<text x="29.18" y="293.38" font-size="6.9" text-anchor="end" fill="#1F1F1F" >PacBio</text>
<text x="29.18" y="300.68" font-size="6.9" text-anchor="end" fill="#1F1F1F" >MAS-Seq</text>
<text x="29.18" y="307.98" font-size="6.9" text-anchor="end" fill="#1F1F1F" >HG004</text>
<line x1="29.58" y1="327.14" x2="31.48" y2="327.14" stroke="#333333" stroke-width="1.0"/>
<text x="29.18" y="320.00" font-size="6.9" text-anchor="end" fill="#1F1F1F" >PacBio</text>
<text x="29.18" y="327.30" font-size="6.9" text-anchor="end" fill="#1F1F1F" >Iso-Seq</text>
<text x="29.18" y="334.59" font-size="6.9" text-anchor="end" fill="#1F1F1F" >(Google)</text>
<text x="29.18" y="341.89" font-size="6.9" text-anchor="end" fill="#1F1F1F" >HG004</text>
<line x1="29.58" y1="357.42" x2="31.48" y2="357.42" stroke="#333333" stroke-width="1.0"/>
<text x="29.18" y="350.27" font-size="6.9" text-anchor="end" fill="#1F1F1F" >PacBio</text>
<text x="29.18" y="357.57" font-size="6.9" text-anchor="end" fill="#1F1F1F" >Iso-Seq</text>
<text x="29.18" y="364.87" font-size="6.9" text-anchor="end" fill="#1F1F1F" >(BCM)</text>
<text x="29.18" y="372.17" font-size="6.9" text-anchor="end" fill="#1F1F1F" >HG004</text>
<text x="177.56" y="276.67" font-size="6.9" text-anchor="middle" fill="#333333" >DP≥10,AD≥2</text>
<rect x="131.48" y="283.00" width="71.91" height="9.10" fill="#B2201A" />
<text x="203.09" y="289.62" font-size="6.9" text-anchor="end" fill="#FFFFFF" >0.961</text>
<rect x="131.48" y="292.05" width="63.95" height="9.10" fill="#C9625E" />
<text x="195.13" y="298.68" font-size="6.9" text-anchor="end" fill="#FFFFFF" >0.942</text>
<rect x="131.48" y="301.10" width="79.87" height="9.10" fill="#E6B2B1" />
<text x="211.05" y="307.73" font-size="6.9" text-anchor="end" fill="#FFFFFF" >0.980</text>
<rect x="131.48" y="313.27" width="66.46" height="9.10" fill="#FF9A22" />
<text x="197.64" y="319.89" font-size="6.9" text-anchor="end" fill="#FFFFFF" >0.948</text>
<rect x="131.48" y="322.32" width="55.99" height="9.10" fill="#FFB866" />
<text x="187.17" y="328.94" font-size="6.9" text-anchor="end" fill="#FFFFFF" >0.923</text>
<rect x="131.48" y="331.37" width="76.94" height="9.10" fill="#FFDDB6" />
<text x="208.12" y="338.00" font-size="6.9" text-anchor="end" fill="#FFFFFF" >0.973</text>
<rect x="131.48" y="343.54" width="75.26" height="9.10" fill="#138A8C" />
<text x="206.44" y="350.17" font-size="6.9" text-anchor="end" fill="#FFFFFF" >0.969</text>
<rect x="131.48" y="352.59" width="68.98" height="9.10" fill="#5BB5B7" />
<text x="200.16" y="359.22" font-size="6.9" text-anchor="end" fill="#FFFFFF" >0.954</text>
<rect x="131.48" y="361.64" width="81.96" height="9.10" fill="#A9DADB" />
<text x="213.14" y="368.27" font-size="6.9" text-anchor="end" fill="#FFFFFF" >0.985</text>
<rect x="131.48" y="278.67" width="92.17" height="96.48" fill="none" stroke="#3A3A3A" stroke-width="0.62"/>
<line x1="135.93" y1="375.15" x2="135.93" y2="376.95" stroke="#333333" stroke-width="1.0"/>
<text x="135.93" y="382.10" font-size="6.9" text-anchor="middle" fill="#333333" >0.80</text>
<line x1="156.88" y1="375.15" x2="156.88" y2="376.95" stroke="#333333" stroke-width="1.0"/>
<text x="156.88" y="382.10" font-size="6.9" text-anchor="middle" fill="#333333" >0.85</text>
<line x1="177.83" y1="375.15" x2="177.83" y2="376.95" stroke="#333333" stroke-width="1.0"/>
<text x="177.83" y="382.10" font-size="6.9" text-anchor="middle" fill="#333333" >0.90</text>
<line x1="198.78" y1="375.15" x2="198.78" y2="376.95" stroke="#333333" stroke-width="1.0"/>
<text x="198.78" y="382.10" font-size="6.9" text-anchor="middle" fill="#333333" >0.95</text>
<line x1="219.73" y1="375.15" x2="219.73" y2="376.95" stroke="#333333" stroke-width="1.0"/>
<text x="219.73" y="382.10" font-size="6.9" text-anchor="middle" fill="#333333" >1.00</text>
<text x="277.56" y="276.67" font-size="6.9" text-anchor="middle" fill="#333333" >DP≥8,AD≥2</text>
<rect x="231.48" y="283.00" width="70.23" height="9.10" fill="#B2201A" />
<text x="301.41" y="289.62" font-size="6.9" text-anchor="end" fill="#FFFFFF" >0.957</text>
<rect x="231.48" y="292.05" width="62.69" height="9.10" fill="#C9625E" />
<text x="293.87" y="298.68" font-size="6.9" text-anchor="end" fill="#FFFFFF" >0.939</text>
<rect x="231.48" y="301.10" width="78.19" height="9.10" fill="#E6B2B1" />
<text x="309.37" y="307.73" font-size="6.9" text-anchor="end" fill="#FFFFFF" >0.976</text>
<rect x="231.48" y="313.27" width="64.37" height="9.10" fill="#FF9A22" />
<text x="295.55" y="319.89" font-size="6.9" text-anchor="end" fill="#FFFFFF" >0.943</text>
<rect x="231.48" y="322.32" width="54.31" height="9.10" fill="#FFB866" />
<text x="285.49" y="328.94" font-size="6.9" text-anchor="end" fill="#FFFFFF" >0.919</text>
<rect x="231.48" y="331.37" width="74.84" height="9.10" fill="#FFDDB6" />
<text x="306.02" y="338.00" font-size="6.9" text-anchor="end" fill="#FFFFFF" >0.968</text>
<rect x="231.48" y="343.54" width="74.42" height="9.10" fill="#138A8C" />
<text x="305.60" y="350.17" font-size="6.9" text-anchor="end" fill="#FFFFFF" >0.967</text>
<rect x="231.48" y="352.59" width="68.56" height="9.10" fill="#5BB5B7" />
<text x="299.74" y="359.22" font-size="6.9" text-anchor="end" fill="#FFFFFF" >0.953</text>
<rect x="231.48" y="361.64" width="80.71" height="9.10" fill="#A9DADB" />
<text x="311.89" y="368.27" font-size="6.9" text-anchor="end" fill="#FFFFFF" >0.982</text>
<rect x="231.48" y="278.67" width="92.17" height="96.48" fill="none" stroke="#3A3A3A" stroke-width="0.62"/>
<line x1="235.93" y1="375.15" x2="235.93" y2="376.95" stroke="#333333" stroke-width="1.0"/>
<text x="235.93" y="382.10" font-size="6.9" text-anchor="middle" fill="#333333" >0.80</text>
<line x1="256.88" y1="375.15" x2="256.88" y2="376.95" stroke="#333333" stroke-width="1.0"/>
<text x="256.88" y="382.10" font-size="6.9" text-anchor="middle" fill="#333333" >0.85</text>
<line x1="277.83" y1="375.15" x2="277.83" y2="376.95" stroke="#333333" stroke-width="1.0"/>
<text x="277.83" y="382.10" font-size="6.9" text-anchor="middle" fill="#333333" >0.90</text>
<line x1="298.78" y1="375.15" x2="298.78" y2="376.95" stroke="#333333" stroke-width="1.0"/>
<text x="298.78" y="382.10" font-size="6.9" text-anchor="middle" fill="#333333" >0.95</text>
<line x1="319.73" y1="375.15" x2="319.73" y2="376.95" stroke="#333333" stroke-width="1.0"/>
<text x="319.73" y="382.10" font-size="6.9" text-anchor="middle" fill="#333333" >1.00</text>
<text x="376.98" y="276.67" font-size="6.9" text-anchor="middle" fill="#333333" >DP≥4,AD≥2</text>
<rect x="330.55" y="283.00" width="60.60" height="9.10" fill="#B2201A" />
<text x="390.85" y="289.62" font-size="6.9" text-anchor="end" fill="#FFFFFF" >0.934</text>
<rect x="330.55" y="292.05" width="53.05" height="9.10" fill="#C9625E" />
<text x="383.30" y="298.68" font-size="6.9" text-anchor="end" fill="#FFFFFF" >0.916</text>
<rect x="330.55" y="301.10" width="68.14" height="9.10" fill="#E6B2B1" />
<text x="398.39" y="307.73" font-size="6.9" text-anchor="end" fill="#FFFFFF" >0.952</text>
<rect x="330.55" y="313.27" width="53.89" height="9.10" fill="#FF9A22" />
<text x="384.14" y="319.89" font-size="6.9" text-anchor="end" fill="#FFFFFF" >0.918</text>
<rect x="330.55" y="322.32" width="45.09" height="9.10" fill="#FFB866" />
<text x="375.34" y="328.94" font-size="6.9" text-anchor="end" fill="#FFFFFF" >0.897</text>
<rect x="330.55" y="331.37" width="63.53" height="9.10" fill="#FFDDB6" />
<text x="393.78" y="338.00" font-size="6.9" text-anchor="end" fill="#FFFFFF" >0.941</text>
<rect x="330.55" y="343.54" width="66.88" height="9.10" fill="#138A8C" />
<text x="397.13" y="350.17" font-size="6.9" text-anchor="end" fill="#FFFFFF" >0.949</text>
<rect x="330.55" y="352.59" width="61.85" height="9.10" fill="#5BB5B7" />
<text x="392.10" y="359.22" font-size="6.9" text-anchor="end" fill="#FFFFFF" >0.937</text>
<rect x="330.55" y="361.64" width="72.33" height="9.10" fill="#A9DADB" />
<text x="402.58" y="368.27" font-size="6.9" text-anchor="end" fill="#FFFFFF" >0.962</text>
<rect x="330.55" y="278.67" width="92.85" height="96.48" fill="none" stroke="#3A3A3A" stroke-width="0.62"/>
<line x1="335.00" y1="375.15" x2="335.00" y2="376.95" stroke="#333333" stroke-width="1.0"/>
<text x="335.00" y="382.10" font-size="6.9" text-anchor="middle" fill="#333333" >0.80</text>
<line x1="355.95" y1="375.15" x2="355.95" y2="376.95" stroke="#333333" stroke-width="1.0"/>
<text x="355.95" y="382.10" font-size="6.9" text-anchor="middle" fill="#333333" >0.85</text>
<line x1="376.90" y1="375.15" x2="376.90" y2="376.95" stroke="#333333" stroke-width="1.0"/>
<text x="376.90" y="382.10" font-size="6.9" text-anchor="middle" fill="#333333" >0.90</text>
<line x1="397.85" y1="375.15" x2="397.85" y2="376.95" stroke="#333333" stroke-width="1.0"/>
<text x="397.85" y="382.10" font-size="6.9" text-anchor="middle" fill="#333333" >0.95</text>
<line x1="418.80" y1="375.15" x2="418.80" y2="376.95" stroke="#333333" stroke-width="1.0"/>
<text x="418.80" y="382.10" font-size="6.9" text-anchor="middle" fill="#333333" >1.00</text>
<text x="77.97" y="402.97" font-size="6.9" text-anchor="middle" fill="#333333" >DP≥10,AD≥4</text>
<text x="77.97" y="409.97" font-size="6.9" text-anchor="middle" fill="#333333" >(Disregarding zygosity)</text>
<rect x="31.48" y="416.20" width="79.45" height="9.43" fill="#B2201A" />
<text x="33.68" y="422.99" font-size="6.9" text-anchor="start" fill="#FFFFFF" >F1-score</text>
<text x="110.63" y="422.99" font-size="6.9" text-anchor="end" fill="#FFFFFF" >0.979</text>
<rect x="31.48" y="425.58" width="73.17" height="9.43" fill="#C9625E" />
<text x="33.68" y="432.37" font-size="6.9" text-anchor="start" fill="#FFFFFF" >Recall</text>
<text x="104.35" y="432.37" font-size="6.9" text-anchor="end" fill="#FFFFFF" >0.964</text>
<rect x="31.48" y="434.96" width="85.74" height="9.43" fill="#E6B2B1" />
<text x="33.68" y="441.75" font-size="6.9" text-anchor="start" fill="#FFFFFF" >Precision</text>
<text x="116.92" y="441.75" font-size="6.9" text-anchor="end" fill="#FFFFFF" >0.994</text>
<rect x="31.48" y="446.50" width="75.68" height="9.43" fill="#FF9A22" />
<text x="33.68" y="453.29" font-size="6.9" text-anchor="start" fill="#FFFFFF" >F1-score</text>
<text x="106.86" y="453.29" font-size="6.9" text-anchor="end" fill="#FFFFFF" >0.970</text>
<rect x="31.48" y="455.88" width="66.46" height="9.43" fill="#FFB866" />
<text x="33.68" y="462.67" font-size="6.9" text-anchor="start" fill="#FFFFFF" >Recall</text>
<text x="97.64" y="462.67" font-size="6.9" text-anchor="end" fill="#FFFFFF" >0.948</text>
<rect x="31.48" y="465.26" width="84.90" height="9.43" fill="#FFDDB6" />
<text x="33.68" y="472.05" font-size="6.9" text-anchor="start" fill="#FFFFFF" >Precision</text>
<text x="116.08" y="472.05" font-size="6.9" text-anchor="end" fill="#FFFFFF" >0.992</text>
<rect x="31.48" y="476.80" width="80.71" height="9.43" fill="#138A8C" />
<text x="33.68" y="483.59" font-size="6.9" text-anchor="start" fill="#FFFFFF" >F1-score</text>
<text x="111.89" y="483.59" font-size="6.9" text-anchor="end" fill="#FFFFFF" >0.982</text>
<rect x="31.48" y="486.18" width="75.26" height="9.43" fill="#5BB5B7" />
<text x="33.68" y="492.97" font-size="6.9" text-anchor="start" fill="#FFFFFF" >Recall</text>
<text x="106.44" y="492.97" font-size="6.9" text-anchor="end" fill="#FFFFFF" >0.969</text>
<rect x="31.48" y="495.56" width="86.15" height="9.43" fill="#A9DADB" />
<text x="33.68" y="502.35" font-size="6.9" text-anchor="start" fill="#FFFFFF" >Precision</text>
<text x="117.33" y="502.35" font-size="6.9" text-anchor="end" fill="#FFFFFF" >0.995</text>
<rect x="31.48" y="411.67" width="92.97" height="97.13" fill="none" stroke="#3A3A3A" stroke-width="0.62"/>
<line x1="35.93" y1="508.80" x2="35.93" y2="510.60" stroke="#333333" stroke-width="1.0"/>
<text x="35.93" y="515.75" font-size="6.9" text-anchor="middle" fill="#333333" >0.80</text>
<line x1="56.88" y1="508.80" x2="56.88" y2="510.60" stroke="#333333" stroke-width="1.0"/>
<text x="56.88" y="515.75" font-size="6.9" text-anchor="middle" fill="#333333" >0.85</text>
<line x1="77.83" y1="508.80" x2="77.83" y2="510.60" stroke="#333333" stroke-width="1.0"/>
<text x="77.83" y="515.75" font-size="6.9" text-anchor="middle" fill="#333333" >0.90</text>
<line x1="98.78" y1="508.80" x2="98.78" y2="510.60" stroke="#333333" stroke-width="1.0"/>
<text x="98.78" y="515.75" font-size="6.9" text-anchor="middle" fill="#333333" >0.95</text>
<line x1="119.73" y1="508.80" x2="119.73" y2="510.60" stroke="#333333" stroke-width="1.0"/>
<text x="119.73" y="515.75" font-size="6.9" text-anchor="middle" fill="#333333" >1.00</text>
<line x1="29.58" y1="430.57" x2="31.48" y2="430.57" stroke="#333333" stroke-width="1.0"/>
<text x="29.18" y="427.07" font-size="6.9" text-anchor="end" fill="#1F1F1F" >PacBio</text>
<text x="29.18" y="434.37" font-size="6.9" text-anchor="end" fill="#1F1F1F" >MAS-Seq</text>
<text x="29.18" y="441.67" font-size="6.9" text-anchor="end" fill="#1F1F1F" >HG004</text>
<line x1="29.58" y1="460.87" x2="31.48" y2="460.87" stroke="#333333" stroke-width="1.0"/>
<text x="29.18" y="453.72" font-size="6.9" text-anchor="end" fill="#1F1F1F" >PacBio</text>
<text x="29.18" y="461.02" font-size="6.9" text-anchor="end" fill="#1F1F1F" >Iso-Seq</text>
<text x="29.18" y="468.32" font-size="6.9" text-anchor="end" fill="#1F1F1F" >(Google)</text>
<text x="29.18" y="475.62" font-size="6.9" text-anchor="end" fill="#1F1F1F" >HG004</text>
<line x1="29.58" y1="491.17" x2="31.48" y2="491.17" stroke="#333333" stroke-width="1.0"/>
<text x="29.18" y="484.02" font-size="6.9" text-anchor="end" fill="#1F1F1F" >PacBio</text>
<text x="29.18" y="491.32" font-size="6.9" text-anchor="end" fill="#1F1F1F" >Iso-Seq</text>
<text x="29.18" y="498.62" font-size="6.9" text-anchor="end" fill="#1F1F1F" >(BCM)</text>
<text x="29.18" y="505.92" font-size="6.9" text-anchor="end" fill="#1F1F1F" >HG004</text>
<text x="177.56" y="402.97" font-size="6.9" text-anchor="middle" fill="#333333" >DP≥10,AD≥2</text>
<text x="177.56" y="409.97" font-size="6.9" text-anchor="middle" fill="#333333" >(Disregarding zygosity)</text>
<rect x="131.48" y="416.20" width="76.52" height="9.43" fill="#B2201A" />
<text x="207.70" y="422.99" font-size="6.9" text-anchor="end" fill="#FFFFFF" >0.972</text>
<rect x="131.48" y="425.58" width="68.56" height="9.43" fill="#C9625E" />
<text x="199.74" y="432.37" font-size="6.9" text-anchor="end" fill="#FFFFFF" >0.953</text>
<rect x="131.48" y="434.96" width="84.48" height="9.43" fill="#E6B2B1" />
<text x="215.66" y="441.75" font-size="6.9" text-anchor="end" fill="#FFFFFF" >0.991</text>
<rect x="131.48" y="446.50" width="71.49" height="9.43" fill="#FF9A22" />
<text x="202.67" y="453.29" font-size="6.9" text-anchor="end" fill="#FFFFFF" >0.960</text>
<rect x="131.48" y="455.88" width="61.43" height="9.43" fill="#FFB866" />
<text x="192.61" y="462.67" font-size="6.9" text-anchor="end" fill="#FFFFFF" >0.936</text>
<rect x="131.48" y="465.26" width="82.38" height="9.43" fill="#FFDDB6" />
<text x="213.56" y="472.05" font-size="6.9" text-anchor="end" fill="#FFFFFF" >0.986</text>
<rect x="131.48" y="476.80" width="78.61" height="9.43" fill="#138A8C" />
<text x="209.79" y="483.59" font-size="6.9" text-anchor="end" fill="#FFFFFF" >0.977</text>
<rect x="131.48" y="486.18" width="71.91" height="9.43" fill="#5BB5B7" />
<text x="203.09" y="492.97" font-size="6.9" text-anchor="end" fill="#FFFFFF" >0.961</text>
<rect x="131.48" y="495.56" width="85.32" height="9.43" fill="#A9DADB" />
<text x="216.50" y="502.35" font-size="6.9" text-anchor="end" fill="#FFFFFF" >0.993</text>
<rect x="131.48" y="411.67" width="92.17" height="97.13" fill="none" stroke="#3A3A3A" stroke-width="0.62"/>
<line x1="135.93" y1="508.80" x2="135.93" y2="510.60" stroke="#333333" stroke-width="1.0"/>
<text x="135.93" y="515.75" font-size="6.9" text-anchor="middle" fill="#333333" >0.80</text>
<line x1="156.88" y1="508.80" x2="156.88" y2="510.60" stroke="#333333" stroke-width="1.0"/>
<text x="156.88" y="515.75" font-size="6.9" text-anchor="middle" fill="#333333" >0.85</text>
<line x1="177.83" y1="508.80" x2="177.83" y2="510.60" stroke="#333333" stroke-width="1.0"/>
<text x="177.83" y="515.75" font-size="6.9" text-anchor="middle" fill="#333333" >0.90</text>
<line x1="198.78" y1="508.80" x2="198.78" y2="510.60" stroke="#333333" stroke-width="1.0"/>
<text x="198.78" y="515.75" font-size="6.9" text-anchor="middle" fill="#333333" >0.95</text>
<line x1="219.73" y1="508.80" x2="219.73" y2="510.60" stroke="#333333" stroke-width="1.0"/>
<text x="219.73" y="515.75" font-size="6.9" text-anchor="middle" fill="#333333" >1.00</text>
<text x="277.56" y="402.97" font-size="6.9" text-anchor="middle" fill="#333333" >DP≥8,AD≥2</text>
<text x="277.56" y="409.97" font-size="6.9" text-anchor="middle" fill="#333333" >(Disregarding zygosity)</text>
<rect x="231.48" y="416.20" width="75.68" height="9.43" fill="#B2201A" />
<text x="306.86" y="422.99" font-size="6.9" text-anchor="end" fill="#FFFFFF" >0.970</text>
<rect x="231.48" y="425.58" width="67.72" height="9.43" fill="#C9625E" />
<text x="298.90" y="432.37" font-size="6.9" text-anchor="end" fill="#FFFFFF" >0.951</text>
<rect x="231.48" y="434.96" width="83.64" height="9.43" fill="#E6B2B1" />
<text x="314.82" y="441.75" font-size="6.9" text-anchor="end" fill="#FFFFFF" >0.989</text>
<rect x="231.48" y="446.50" width="70.65" height="9.43" fill="#FF9A22" />
<text x="301.83" y="453.29" font-size="6.9" text-anchor="end" fill="#FFFFFF" >0.958</text>
<rect x="231.48" y="455.88" width="60.60" height="9.43" fill="#FFB866" />
<text x="291.78" y="462.67" font-size="6.9" text-anchor="end" fill="#FFFFFF" >0.934</text>
<rect x="231.48" y="465.26" width="81.55" height="9.43" fill="#FFDDB6" />
<text x="312.73" y="472.05" font-size="6.9" text-anchor="end" fill="#FFFFFF" >0.984</text>
<rect x="231.48" y="476.80" width="78.61" height="9.43" fill="#138A8C" />
<text x="309.79" y="483.59" font-size="6.9" text-anchor="end" fill="#FFFFFF" >0.977</text>
<rect x="231.48" y="486.18" width="72.33" height="9.43" fill="#5BB5B7" />
<text x="303.51" y="492.97" font-size="6.9" text-anchor="end" fill="#FFFFFF" >0.962</text>
<rect x="231.48" y="495.56" width="84.48" height="9.43" fill="#A9DADB" />
<text x="315.66" y="502.35" font-size="6.9" text-anchor="end" fill="#FFFFFF" >0.991</text>
<rect x="231.48" y="411.67" width="92.17" height="97.13" fill="none" stroke="#3A3A3A" stroke-width="0.62"/>
<line x1="235.93" y1="508.80" x2="235.93" y2="510.60" stroke="#333333" stroke-width="1.0"/>
<text x="235.93" y="515.75" font-size="6.9" text-anchor="middle" fill="#333333" >0.80</text>
<line x1="256.88" y1="508.80" x2="256.88" y2="510.60" stroke="#333333" stroke-width="1.0"/>
<text x="256.88" y="515.75" font-size="6.9" text-anchor="middle" fill="#333333" >0.85</text>
<line x1="277.83" y1="508.80" x2="277.83" y2="510.60" stroke="#333333" stroke-width="1.0"/>
<text x="277.83" y="515.75" font-size="6.9" text-anchor="middle" fill="#333333" >0.90</text>
<line x1="298.78" y1="508.80" x2="298.78" y2="510.60" stroke="#333333" stroke-width="1.0"/>
<text x="298.78" y="515.75" font-size="6.9" text-anchor="middle" fill="#333333" >0.95</text>
<line x1="319.73" y1="508.80" x2="319.73" y2="510.60" stroke="#333333" stroke-width="1.0"/>
<text x="319.73" y="515.75" font-size="6.9" text-anchor="middle" fill="#333333" >1.00</text>
<text x="376.98" y="402.97" font-size="6.9" text-anchor="middle" fill="#333333" >DP≥4,AD≥2</text>
<text x="376.98" y="409.97" font-size="6.9" text-anchor="middle" fill="#333333" >(Disregarding zygosity)</text>
<rect x="330.55" y="416.20" width="73.17" height="9.43" fill="#B2201A" />
<text x="403.42" y="422.99" font-size="6.9" text-anchor="end" fill="#FFFFFF" >0.964</text>
<rect x="330.55" y="425.58" width="65.62" height="9.43" fill="#C9625E" />
<text x="395.87" y="432.37" font-size="6.9" text-anchor="end" fill="#FFFFFF" >0.946</text>
<rect x="330.55" y="434.96" width="81.13" height="9.43" fill="#E6B2B1" />
<text x="411.38" y="441.75" font-size="6.9" text-anchor="end" fill="#FFFFFF" >0.983</text>
<rect x="330.55" y="446.50" width="69.39" height="9.43" fill="#FF9A22" />
<text x="399.64" y="453.29" font-size="6.9" text-anchor="end" fill="#FFFFFF" >0.955</text>
<rect x="330.55" y="455.88" width="59.76" height="9.43" fill="#FFB866" />
<text x="390.01" y="462.67" font-size="6.9" text-anchor="end" fill="#FFFFFF" >0.932</text>
<rect x="330.55" y="465.26" width="79.03" height="9.43" fill="#FFDDB6" />
<text x="409.28" y="472.05" font-size="6.9" text-anchor="end" fill="#FFFFFF" >0.978</text>
<rect x="330.55" y="476.80" width="78.19" height="9.43" fill="#138A8C" />
<text x="408.44" y="483.59" font-size="6.9" text-anchor="end" fill="#FFFFFF" >0.976</text>
<rect x="330.55" y="486.18" width="73.17" height="9.43" fill="#5BB5B7" />
<text x="403.42" y="492.97" font-size="6.9" text-anchor="end" fill="#FFFFFF" >0.964</text>
<rect x="330.55" y="495.56" width="83.64" height="9.43" fill="#A9DADB" />
<text x="413.89" y="502.35" font-size="6.9" text-anchor="end" fill="#FFFFFF" >0.989</text>
<rect x="330.55" y="411.67" width="92.85" height="97.13" fill="none" stroke="#3A3A3A" stroke-width="0.62"/>
<line x1="335.00" y1="508.80" x2="335.00" y2="510.60" stroke="#333333" stroke-width="1.0"/>
<text x="335.00" y="515.75" font-size="6.9" text-anchor="middle" fill="#333333" >0.80</text>
<line x1="355.95" y1="508.80" x2="355.95" y2="510.60" stroke="#333333" stroke-width="1.0"/>
<text x="355.95" y="515.75" font-size="6.9" text-anchor="middle" fill="#333333" >0.85</text>
<line x1="376.90" y1="508.80" x2="376.90" y2="510.60" stroke="#333333" stroke-width="1.0"/>
<text x="376.90" y="515.75" font-size="6.9" text-anchor="middle" fill="#333333" >0.90</text>
<line x1="397.85" y1="508.80" x2="397.85" y2="510.60" stroke="#333333" stroke-width="1.0"/>
<text x="397.85" y="515.75" font-size="6.9" text-anchor="middle" fill="#333333" >0.95</text>
<line x1="418.80" y1="508.80" x2="418.80" y2="510.60" stroke="#333333" stroke-width="1.0"/>
<text x="418.80" y="515.75" font-size="6.9" text-anchor="middle" fill="#333333" >1.00</text>
<text x="2.00" y="8.80" font-size="12.2" text-anchor="start" fill="#000000" font-weight="bold" >a</text>
<text x="433.60" y="8.80" font-size="12.2" text-anchor="start" fill="#000000" font-weight="bold" >b</text>
<text x="573.60" y="11.65" font-size="7.8" text-anchor="middle" fill="#1A1A1A" >PacBio Iso-Seq HG004 SNP (BCM)</text>
<line x1="461.60" y1="12.00" x2="461.60" y2="117.70" stroke="#555555" stroke-width="0.9"/>
<line x1="459.30" y1="117.30" x2="461.60" y2="117.30" stroke="#555555" stroke-width="0.9"/>
<text x="457.30" y="120.00" font-size="7.7" text-anchor="end" fill="#2A2A2A" >0</text>
<line x1="459.30" y1="96.24" x2="461.60" y2="96.24" stroke="#555555" stroke-width="0.9"/>
<text x="457.30" y="98.94" font-size="7.7" text-anchor="end" fill="#2A2A2A" >20</text>
<line x1="459.30" y1="75.18" x2="461.60" y2="75.18" stroke="#555555" stroke-width="0.9"/>
<text x="457.30" y="77.88" font-size="7.7" text-anchor="end" fill="#2A2A2A" >40</text>
<line x1="459.30" y1="54.12" x2="461.60" y2="54.12" stroke="#555555" stroke-width="0.9"/>
<text x="457.30" y="56.82" font-size="7.7" text-anchor="end" fill="#2A2A2A" >60</text>
<line x1="459.30" y1="33.06" x2="461.60" y2="33.06" stroke="#555555" stroke-width="0.9"/>
<text x="457.30" y="35.76" font-size="7.7" text-anchor="end" fill="#2A2A2A" >80</text>
<line x1="459.30" y1="12.00" x2="461.60" y2="12.00" stroke="#555555" stroke-width="0.9"/>
<text x="457.30" y="14.70" font-size="7.7" text-anchor="end" fill="#2A2A2A" >100</text>
<text x="0.00" y="0.00" font-size="7.9" text-anchor="middle" fill="#222222" transform="translate(440.20,63.15) rotate(-90)">F-1 Socre (%)</text>
<rect x="463.47" y="40.61" width="2.75" height="76.69" fill="#1F7E7F" stroke="#2A2A2A" stroke-width="0.55"/>
<rect x="468.38" y="21.29" width="2.75" height="96.01" fill="#EE9630" stroke="#2A2A2A" stroke-width="0.55"/>
<line x1="467.30" y1="117.30" x2="467.30" y2="120.60" stroke="#555555" stroke-width="0.9"/>
<text x="0.00" y="0.00" font-size="8.1" text-anchor="end" fill="#222222" transform="translate(469.40,127.30) rotate(-45)">Homopol 4-6bp</text>
<rect x="476.66" y="53.42" width="2.75" height="63.88" fill="#1F7E7F" stroke="#2A2A2A" stroke-width="0.55"/>
<rect x="481.56" y="27.80" width="2.75" height="89.50" fill="#EE9630" stroke="#2A2A2A" stroke-width="0.55"/>
<line x1="480.49" y1="117.30" x2="480.49" y2="120.60" stroke="#555555" stroke-width="0.9"/>
<text x="0.00" y="0.00" font-size="8.1" text-anchor="end" fill="#222222" transform="translate(482.59,127.30) rotate(-45)">Homopol 7-11bp</text>
<rect x="489.85" y="77.89" width="2.75" height="39.41" fill="#1F7E7F" stroke="#2A2A2A" stroke-width="0.55"/>
<rect x="494.75" y="38.82" width="2.75" height="78.47" fill="#EE9630" stroke="#2A2A2A" stroke-width="0.55"/>
<line x1="493.68" y1="117.30" x2="493.68" y2="120.60" stroke="#555555" stroke-width="0.9"/>
<text x="0.00" y="0.00" font-size="8.1" text-anchor="end" fill="#222222" transform="translate(495.78,127.30) rotate(-45)">Homopol gt11bp</text>
<rect x="503.04" y="63.39" width="2.75" height="53.91" fill="#1F7E7F" stroke="#2A2A2A" stroke-width="0.55"/>
<rect x="507.94" y="32.84" width="2.75" height="84.46" fill="#EE9630" stroke="#2A2A2A" stroke-width="0.55"/>
<line x1="506.87" y1="117.30" x2="506.87" y2="120.60" stroke="#555555" stroke-width="0.9"/>
<text x="0.00" y="0.00" font-size="8.1" text-anchor="end" fill="#222222" transform="translate(508.97,127.30) rotate(-45)">Imp Homopol gt10bp</text>
<rect x="516.24" y="42.71" width="2.75" height="74.59" fill="#1F7E7F" stroke="#2A2A2A" stroke-width="0.55"/>
<rect x="521.13" y="24.65" width="2.75" height="92.65" fill="#EE9630" stroke="#2A2A2A" stroke-width="0.55"/>
<line x1="520.06" y1="117.30" x2="520.06" y2="120.60" stroke="#555555" stroke-width="0.9"/>
<text x="0.00" y="0.00" font-size="8.1" text-anchor="end" fill="#222222" transform="translate(522.16,127.30) rotate(-45)">TR lt51bp</text>
<rect x="529.43" y="41.45" width="2.75" height="75.85" fill="#1F7E7F" stroke="#2A2A2A" stroke-width="0.55"/>
<rect x="534.32" y="23.39" width="2.75" height="93.91" fill="#EE9630" stroke="#2A2A2A" stroke-width="0.55"/>
<line x1="533.25" y1="117.30" x2="533.25" y2="120.60" stroke="#555555" stroke-width="0.9"/>
<text x="0.00" y="0.00" font-size="8.1" text-anchor="end" fill="#222222" transform="translate(535.35,127.30) rotate(-45)">TR51-220bp</text>
<rect x="542.62" y="43.55" width="2.75" height="73.75" fill="#1F7E7F" stroke="#2A2A2A" stroke-width="0.55"/>
<rect x="547.51" y="25.70" width="2.75" height="91.60" fill="#EE9630" stroke="#2A2A2A" stroke-width="0.55"/>
<line x1="546.44" y1="117.30" x2="546.44" y2="120.60" stroke="#555555" stroke-width="0.9"/>
<text x="0.00" y="0.00" font-size="8.1" text-anchor="end" fill="#222222" transform="translate(548.54,127.30) rotate(-45)">TR201-10kbp</text>
<rect x="555.81" y="43.34" width="2.75" height="73.96" fill="#1F7E7F" stroke="#2A2A2A" stroke-width="0.55"/>
<rect x="560.70" y="25.70" width="2.75" height="91.60" fill="#EE9630" stroke="#2A2A2A" stroke-width="0.55"/>
<line x1="559.63" y1="117.30" x2="559.63" y2="120.60" stroke="#555555" stroke-width="0.9"/>
<text x="0.00" y="0.00" font-size="8.1" text-anchor="end" fill="#222222" transform="translate(561.73,127.30) rotate(-45)">TR gt100bp</text>
<rect x="569.00" y="50.48" width="2.75" height="66.82" fill="#1F7E7F" stroke="#2A2A2A" stroke-width="0.55"/>
<rect x="573.89" y="27.48" width="2.75" height="89.81" fill="#EE9630" stroke="#2A2A2A" stroke-width="0.55"/>
<line x1="572.82" y1="117.30" x2="572.82" y2="120.60" stroke="#555555" stroke-width="0.9"/>
<text x="0.00" y="0.00" font-size="8.1" text-anchor="end" fill="#222222" transform="translate(574.92,127.30) rotate(-45)">TR and Homopol</text>
<rect x="582.19" y="40.09" width="2.75" height="77.21" fill="#1F7E7F" stroke="#2A2A2A" stroke-width="0.55"/>
<rect x="587.08" y="24.65" width="2.75" height="92.65" fill="#EE9630" stroke="#2A2A2A" stroke-width="0.55"/>
<line x1="586.01" y1="117.30" x2="586.01" y2="120.60" stroke="#555555" stroke-width="0.9"/>
<text x="0.00" y="0.00" font-size="8.1" text-anchor="end" fill="#222222" transform="translate(588.11,127.30) rotate(-45)">ChainSelf</text>
<rect x="595.38" y="50.90" width="2.75" height="66.40" fill="#1F7E7F" stroke="#2A2A2A" stroke-width="0.55"/>
<rect x="600.27" y="29.37" width="2.75" height="87.92" fill="#EE9630" stroke="#2A2A2A" stroke-width="0.55"/>
<line x1="599.20" y1="117.30" x2="599.20" y2="120.60" stroke="#555555" stroke-width="0.9"/>
<text x="0.00" y="0.00" font-size="8.1" text-anchor="end" fill="#222222" transform="translate(601.30,127.30) rotate(-45)">ChainSelf gt10kb</text>
<rect x="608.57" y="43.23" width="2.75" height="74.06" fill="#1F7E7F" stroke="#2A2A2A" stroke-width="0.55"/>
<rect x="613.46" y="26.33" width="2.75" height="90.97" fill="#EE9630" stroke="#2A2A2A" stroke-width="0.55"/>
<line x1="612.39" y1="117.30" x2="612.39" y2="120.60" stroke="#555555" stroke-width="0.9"/>
<text x="0.00" y="0.00" font-size="8.1" text-anchor="end" fill="#222222" transform="translate(614.49,127.30) rotate(-45)">SegDups</text>
<rect x="621.76" y="47.54" width="2.75" height="69.76" fill="#1F7E7F" stroke="#2A2A2A" stroke-width="0.55"/>
<rect x="626.65" y="27.80" width="2.75" height="89.50" fill="#EE9630" stroke="#2A2A2A" stroke-width="0.55"/>
<line x1="625.58" y1="117.30" x2="625.58" y2="120.60" stroke="#555555" stroke-width="0.9"/>
<text x="0.00" y="0.00" font-size="8.1" text-anchor="end" fill="#222222" transform="translate(627.68,127.30) rotate(-45)">SegDups gt10kb</text>
<rect x="634.95" y="49.32" width="2.75" height="67.97" fill="#1F7E7F" stroke="#2A2A2A" stroke-width="0.55"/>
<rect x="639.84" y="27.80" width="2.75" height="89.50" fill="#EE9630" stroke="#2A2A2A" stroke-width="0.55"/>
<line x1="638.77" y1="117.30" x2="638.77" y2="120.60" stroke="#555555" stroke-width="0.9"/>
<text x="0.00" y="0.00" font-size="8.1" text-anchor="end" fill="#222222" transform="translate(640.87,127.30) rotate(-45)">LowMap</text>
<rect x="648.14" y="45.44" width="2.75" height="71.86" fill="#1F7E7F" stroke="#2A2A2A" stroke-width="0.55"/>
<rect x="653.03" y="23.39" width="2.75" height="93.91" fill="#EE9630" stroke="#2A2A2A" stroke-width="0.55"/>
<line x1="651.96" y1="117.30" x2="651.96" y2="120.60" stroke="#555555" stroke-width="0.9"/>
<text x="0.00" y="0.00" font-size="8.1" text-anchor="end" fill="#222222" transform="translate(654.06,127.30) rotate(-45)">L1H</text>
<rect x="661.33" y="67.70" width="2.75" height="49.60" fill="#1F7E7F" stroke="#2A2A2A" stroke-width="0.55"/>
<rect x="666.22" y="36.72" width="2.75" height="80.58" fill="#EE9630" stroke="#2A2A2A" stroke-width="0.55"/>
<line x1="665.15" y1="117.30" x2="665.15" y2="120.60" stroke="#555555" stroke-width="0.9"/>
<text x="0.00" y="0.00" font-size="8.1" text-anchor="end" fill="#222222" transform="translate(667.25,127.30) rotate(-45)">MHC</text>
<rect x="674.52" y="21.08" width="2.75" height="96.22" fill="#1F7E7F" stroke="#2A2A2A" stroke-width="0.55"/>
<rect x="679.41" y="17.51" width="2.75" height="99.79" fill="#EE9630" stroke="#2A2A2A" stroke-width="0.55"/>
<line x1="678.34" y1="117.30" x2="678.34" y2="120.60" stroke="#555555" stroke-width="0.9"/>
<text x="0.00" y="0.00" font-size="8.1" text-anchor="end" fill="#222222" transform="translate(680.44,127.30) rotate(-45)">CDS</text>
<line x1="461.15" y1="117.30" x2="684.00" y2="117.30" stroke="#555555" stroke-width="0.9"/>
<text x="573.60" y="185.70" font-size="7.8" text-anchor="middle" fill="#1A1A1A" >PacBio MAS-Seq HG004 SNP</text>
<line x1="462.70" y1="183.30" x2="462.70" y2="289.00" stroke="#555555" stroke-width="0.9"/>
<line x1="460.40" y1="288.60" x2="462.70" y2="288.60" stroke="#555555" stroke-width="0.9"/>
<text x="458.40" y="291.30" font-size="7.7" text-anchor="end" fill="#2A2A2A" >0</text>
<line x1="460.40" y1="267.54" x2="462.70" y2="267.54" stroke="#555555" stroke-width="0.9"/>
<text x="458.40" y="270.24" font-size="7.7" text-anchor="end" fill="#2A2A2A" >20</text>
<line x1="460.40" y1="246.48" x2="462.70" y2="246.48" stroke="#555555" stroke-width="0.9"/>
<text x="458.40" y="249.18" font-size="7.7" text-anchor="end" fill="#2A2A2A" >40</text>
<line x1="460.40" y1="225.42" x2="462.70" y2="225.42" stroke="#555555" stroke-width="0.9"/>
<text x="458.40" y="228.12" font-size="7.7" text-anchor="end" fill="#2A2A2A" >60</text>
<line x1="460.40" y1="204.36" x2="462.70" y2="204.36" stroke="#555555" stroke-width="0.9"/>
<text x="458.40" y="207.06" font-size="7.7" text-anchor="end" fill="#2A2A2A" >80</text>
<line x1="460.40" y1="183.30" x2="462.70" y2="183.30" stroke="#555555" stroke-width="0.9"/>
<text x="458.40" y="186.00" font-size="7.7" text-anchor="end" fill="#2A2A2A" >100</text>
<text x="0.00" y="0.00" font-size="7.9" text-anchor="middle" fill="#222222" transform="translate(440.20,236.80) rotate(-90)">F-1 Socre (%)</text>
<rect x="464.57" y="206.63" width="2.75" height="81.97" fill="#1F7E7F" stroke="#2A2A2A" stroke-width="0.55"/>
<rect x="469.48" y="194.36" width="2.75" height="94.24" fill="#EE9630" stroke="#2A2A2A" stroke-width="0.55"/>
<line x1="468.40" y1="288.60" x2="468.40" y2="291.90" stroke="#555555" stroke-width="0.9"/>
<text x="0.00" y="0.00" font-size="8.1" text-anchor="end" fill="#222222" transform="translate(470.50,298.60) rotate(-45)">Homopol_4-6bp</text>
<rect x="477.76" y="218.26" width="2.75" height="70.34" fill="#1F7E7F" stroke="#2A2A2A" stroke-width="0.55"/>
<rect x="482.67" y="199.40" width="2.75" height="89.20" fill="#EE9630" stroke="#2A2A2A" stroke-width="0.55"/>
<line x1="481.59" y1="288.60" x2="481.59" y2="291.90" stroke="#555555" stroke-width="0.9"/>
<text x="0.00" y="0.00" font-size="8.1" text-anchor="end" fill="#222222" transform="translate(483.69,298.60) rotate(-45)">Homopol_7-11bp</text>
<rect x="490.95" y="237.12" width="2.75" height="51.48" fill="#1F7E7F" stroke="#2A2A2A" stroke-width="0.55"/>
<rect x="495.86" y="211.03" width="2.75" height="77.57" fill="#EE9630" stroke="#2A2A2A" stroke-width="0.55"/>
<line x1="494.78" y1="288.60" x2="494.78" y2="291.90" stroke="#555555" stroke-width="0.9"/>
<text x="0.00" y="0.00" font-size="8.1" text-anchor="end" fill="#222222" transform="translate(496.88,298.60) rotate(-45)">Homopol_gt11bp</text>
<rect x="504.14" y="223.29" width="2.75" height="65.31" fill="#1F7E7F" stroke="#2A2A2A" stroke-width="0.55"/>
<rect x="509.05" y="203.27" width="2.75" height="85.33" fill="#EE9630" stroke="#2A2A2A" stroke-width="0.55"/>
<line x1="507.97" y1="288.60" x2="507.97" y2="291.90" stroke="#555555" stroke-width="0.9"/>
<text x="0.00" y="0.00" font-size="8.1" text-anchor="end" fill="#222222" transform="translate(510.07,298.60) rotate(-45)">Imp_Homopol_gt10bp</text>
<rect x="517.34" y="208.51" width="2.75" height="80.09" fill="#1F7E7F" stroke="#2A2A2A" stroke-width="0.55"/>
<rect x="522.24" y="198.24" width="2.75" height="90.36" fill="#EE9630" stroke="#2A2A2A" stroke-width="0.55"/>
<line x1="521.16" y1="288.60" x2="521.16" y2="291.90" stroke="#555555" stroke-width="0.9"/>
<text x="0.00" y="0.00" font-size="8.1" text-anchor="end" fill="#222222" transform="translate(523.26,298.60) rotate(-45)">TR_lt51bp</text>
<rect x="530.53" y="206.42" width="2.75" height="82.18" fill="#1F7E7F" stroke="#2A2A2A" stroke-width="0.55"/>
<rect x="535.42" y="197.82" width="2.75" height="90.78" fill="#EE9630" stroke="#2A2A2A" stroke-width="0.55"/>
<line x1="534.35" y1="288.60" x2="534.35" y2="291.90" stroke="#555555" stroke-width="0.9"/>
<text x="0.00" y="0.00" font-size="8.1" text-anchor="end" fill="#222222" transform="translate(536.45,298.60) rotate(-45)">TR51-220bp</text>
<rect x="543.72" y="209.35" width="2.75" height="79.25" fill="#1F7E7F" stroke="#2A2A2A" stroke-width="0.55"/>
<rect x="548.62" y="198.45" width="2.75" height="90.15" fill="#EE9630" stroke="#2A2A2A" stroke-width="0.55"/>
<line x1="547.54" y1="288.60" x2="547.54" y2="291.90" stroke="#555555" stroke-width="0.9"/>
<text x="0.00" y="0.00" font-size="8.1" text-anchor="end" fill="#222222" transform="translate(549.64,298.60) rotate(-45)">TR201-10kbp</text>
<rect x="556.91" y="208.62" width="2.75" height="79.98" fill="#1F7E7F" stroke="#2A2A2A" stroke-width="0.55"/>
<rect x="561.80" y="198.45" width="2.75" height="90.15" fill="#EE9630" stroke="#2A2A2A" stroke-width="0.55"/>
<line x1="560.73" y1="288.60" x2="560.73" y2="291.90" stroke="#555555" stroke-width="0.9"/>
<text x="0.00" y="0.00" font-size="8.1" text-anchor="end" fill="#222222" transform="translate(562.83,298.60) rotate(-45)">TR_gt100bp</text>
<rect x="570.10" y="214.59" width="2.75" height="74.01" fill="#1F7E7F" stroke="#2A2A2A" stroke-width="0.55"/>
<rect x="575.00" y="199.40" width="2.75" height="89.20" fill="#EE9630" stroke="#2A2A2A" stroke-width="0.55"/>
<line x1="573.92" y1="288.60" x2="573.92" y2="291.90" stroke="#555555" stroke-width="0.9"/>
<text x="0.00" y="0.00" font-size="8.1" text-anchor="end" fill="#222222" transform="translate(576.02,298.60) rotate(-45)">TR_and_Homopol</text>
<rect x="583.29" y="209.14" width="2.75" height="79.46" fill="#1F7E7F" stroke="#2A2A2A" stroke-width="0.55"/>
<rect x="588.18" y="198.03" width="2.75" height="90.57" fill="#EE9630" stroke="#2A2A2A" stroke-width="0.55"/>
<line x1="587.11" y1="288.60" x2="587.11" y2="291.90" stroke="#555555" stroke-width="0.9"/>
<text x="0.00" y="0.00" font-size="8.1" text-anchor="end" fill="#222222" transform="translate(589.21,298.60) rotate(-45)">ChainSelf</text>
<rect x="596.48" y="216.69" width="2.75" height="71.91" fill="#1F7E7F" stroke="#2A2A2A" stroke-width="0.55"/>
<rect x="601.38" y="203.48" width="2.75" height="85.12" fill="#EE9630" stroke="#2A2A2A" stroke-width="0.55"/>
<line x1="600.30" y1="288.60" x2="600.30" y2="291.90" stroke="#555555" stroke-width="0.9"/>
<text x="0.00" y="0.00" font-size="8.1" text-anchor="end" fill="#222222" transform="translate(602.40,298.60) rotate(-45)">ChainSelf_gt10kb</text>
<rect x="609.67" y="212.29" width="2.75" height="76.31" fill="#1F7E7F" stroke="#2A2A2A" stroke-width="0.55"/>
<rect x="614.56" y="200.44" width="2.75" height="88.16" fill="#EE9630" stroke="#2A2A2A" stroke-width="0.55"/>
<line x1="613.49" y1="288.60" x2="613.49" y2="291.90" stroke="#555555" stroke-width="0.9"/>
<text x="0.00" y="0.00" font-size="8.1" text-anchor="end" fill="#222222" transform="translate(615.59,298.60) rotate(-45)">SegDups</text>
<rect x="622.86" y="215.22" width="2.75" height="73.38" fill="#1F7E7F" stroke="#2A2A2A" stroke-width="0.55"/>
<rect x="627.75" y="201.70" width="2.75" height="86.90" fill="#EE9630" stroke="#2A2A2A" stroke-width="0.55"/>
<line x1="626.68" y1="288.60" x2="626.68" y2="291.90" stroke="#555555" stroke-width="0.9"/>
<text x="0.00" y="0.00" font-size="8.1" text-anchor="end" fill="#222222" transform="translate(628.78,298.60) rotate(-45)">SegDups_gt10kb</text>
<rect x="636.05" y="216.16" width="2.75" height="72.44" fill="#1F7E7F" stroke="#2A2A2A" stroke-width="0.55"/>
<rect x="640.94" y="201.39" width="2.75" height="87.21" fill="#EE9630" stroke="#2A2A2A" stroke-width="0.55"/>
<line x1="639.87" y1="288.60" x2="639.87" y2="291.90" stroke="#555555" stroke-width="0.9"/>
<text x="0.00" y="0.00" font-size="8.1" text-anchor="end" fill="#222222" transform="translate(641.97,298.60) rotate(-45)">LowMap</text>
<rect x="649.24" y="233.46" width="2.75" height="55.15" fill="#1F7E7F" stroke="#2A2A2A" stroke-width="0.55"/>
<rect x="654.13" y="196.88" width="2.75" height="91.72" fill="#EE9630" stroke="#2A2A2A" stroke-width="0.55"/>
<line x1="653.06" y1="288.60" x2="653.06" y2="291.90" stroke="#555555" stroke-width="0.9"/>
<text x="0.00" y="0.00" font-size="8.1" text-anchor="end" fill="#222222" transform="translate(655.16,298.60) rotate(-45)">L1H</text>
<rect x="662.43" y="233.87" width="2.75" height="54.73" fill="#1F7E7F" stroke="#2A2A2A" stroke-width="0.55"/>
<rect x="667.32" y="209.14" width="2.75" height="79.46" fill="#EE9630" stroke="#2A2A2A" stroke-width="0.55"/>
<line x1="666.25" y1="288.60" x2="666.25" y2="291.90" stroke="#555555" stroke-width="0.9"/>
<text x="0.00" y="0.00" font-size="8.1" text-anchor="end" fill="#222222" transform="translate(668.35,298.60) rotate(-45)">MHC</text>
<rect x="675.62" y="191.33" width="2.75" height="97.27" fill="#1F7E7F" stroke="#2A2A2A" stroke-width="0.55"/>
<rect x="680.51" y="191.85" width="2.75" height="96.75" fill="#EE9630" stroke="#2A2A2A" stroke-width="0.55"/>
<line x1="679.44" y1="288.60" x2="679.44" y2="291.90" stroke="#555555" stroke-width="0.9"/>
<text x="0.00" y="0.00" font-size="8.1" text-anchor="end" fill="#222222" transform="translate(681.54,298.60) rotate(-45)">CDS</text>
<line x1="462.25" y1="288.60" x2="684.00" y2="288.60" stroke="#555555" stroke-width="0.9"/>
<text x="573.60" y="359.60" font-size="7.8" text-anchor="middle" fill="#1A1A1A" >ONT dRNA004 HG004 SNP</text>
<line x1="462.70" y1="357.40" x2="462.70" y2="463.10" stroke="#555555" stroke-width="0.9"/>
<line x1="460.40" y1="462.70" x2="462.70" y2="462.70" stroke="#555555" stroke-width="0.9"/>
<text x="458.40" y="465.40" font-size="7.7" text-anchor="end" fill="#2A2A2A" >0</text>
<line x1="460.40" y1="441.64" x2="462.70" y2="441.64" stroke="#555555" stroke-width="0.9"/>
<text x="458.40" y="444.34" font-size="7.7" text-anchor="end" fill="#2A2A2A" >20</text>
<line x1="460.40" y1="420.58" x2="462.70" y2="420.58" stroke="#555555" stroke-width="0.9"/>
<text x="458.40" y="423.28" font-size="7.7" text-anchor="end" fill="#2A2A2A" >40</text>
<line x1="460.40" y1="399.52" x2="462.70" y2="399.52" stroke="#555555" stroke-width="0.9"/>
<text x="458.40" y="402.22" font-size="7.7" text-anchor="end" fill="#2A2A2A" >60</text>
<line x1="460.40" y1="378.46" x2="462.70" y2="378.46" stroke="#555555" stroke-width="0.9"/>
<text x="458.40" y="381.16" font-size="7.7" text-anchor="end" fill="#2A2A2A" >80</text>
<line x1="460.40" y1="357.40" x2="462.70" y2="357.40" stroke="#555555" stroke-width="0.9"/>
<text x="458.40" y="360.10" font-size="7.7" text-anchor="end" fill="#2A2A2A" >100</text>
<text x="0.00" y="0.00" font-size="7.9" text-anchor="middle" fill="#222222" transform="translate(440.20,409.90) rotate(-90)">F-1 Socre (%)</text>
<rect x="464.57" y="401.16" width="2.75" height="61.54" fill="#1F7E7F" stroke="#2A2A2A" stroke-width="0.55"/>
<rect x="469.48" y="371.92" width="2.75" height="90.78" fill="#EE9630" stroke="#2A2A2A" stroke-width="0.55"/>
<line x1="468.40" y1="462.70" x2="468.40" y2="466.00" stroke="#555555" stroke-width="0.9"/>
<text x="0.00" y="0.00" font-size="8.1" text-anchor="end" fill="#222222" transform="translate(470.50,472.70) rotate(-45)">Homopol_4-6bp</text>
<rect x="477.76" y="410.07" width="2.75" height="52.63" fill="#1F7E7F" stroke="#2A2A2A" stroke-width="0.55"/>
<rect x="482.67" y="384.60" width="2.75" height="78.10" fill="#EE9630" stroke="#2A2A2A" stroke-width="0.55"/>
<line x1="481.59" y1="462.70" x2="481.59" y2="466.00" stroke="#555555" stroke-width="0.9"/>
<text x="0.00" y="0.00" font-size="8.1" text-anchor="end" fill="#222222" transform="translate(483.69,472.70) rotate(-45)">Homopol_7-11bp</text>
<rect x="490.95" y="431.66" width="2.75" height="31.04" fill="#1F7E7F" stroke="#2A2A2A" stroke-width="0.55"/>
<rect x="495.86" y="398.44" width="2.75" height="64.26" fill="#EE9630" stroke="#2A2A2A" stroke-width="0.55"/>
<line x1="494.78" y1="462.70" x2="494.78" y2="466.00" stroke="#555555" stroke-width="0.9"/>
<text x="0.00" y="0.00" font-size="8.1" text-anchor="end" fill="#222222" transform="translate(496.88,472.70) rotate(-45)">Homopol_gt11bp</text>
<rect x="504.14" y="420.76" width="2.75" height="41.94" fill="#1F7E7F" stroke="#2A2A2A" stroke-width="0.55"/>
<rect x="509.05" y="388.90" width="2.75" height="73.80" fill="#EE9630" stroke="#2A2A2A" stroke-width="0.55"/>
<line x1="507.97" y1="462.70" x2="507.97" y2="466.00" stroke="#555555" stroke-width="0.9"/>
<text x="0.00" y="0.00" font-size="8.1" text-anchor="end" fill="#222222" transform="translate(510.07,472.70) rotate(-45)">Imp_Homopol_gt10bp</text>
<rect x="517.34" y="407.24" width="2.75" height="55.46" fill="#1F7E7F" stroke="#2A2A2A" stroke-width="0.55"/>
<rect x="522.24" y="375.28" width="2.75" height="87.42" fill="#EE9630" stroke="#2A2A2A" stroke-width="0.55"/>
<line x1="521.16" y1="462.70" x2="521.16" y2="466.00" stroke="#555555" stroke-width="0.9"/>
<text x="0.00" y="0.00" font-size="8.1" text-anchor="end" fill="#222222" transform="translate(523.26,472.70) rotate(-45)">TR_lt51bp</text>
<rect x="530.53" y="411.33" width="2.75" height="51.37" fill="#1F7E7F" stroke="#2A2A2A" stroke-width="0.55"/>
<rect x="535.42" y="373.49" width="2.75" height="89.20" fill="#EE9630" stroke="#2A2A2A" stroke-width="0.55"/>
<line x1="534.35" y1="462.70" x2="534.35" y2="466.00" stroke="#555555" stroke-width="0.9"/>
<text x="0.00" y="0.00" font-size="8.1" text-anchor="end" fill="#222222" transform="translate(536.45,472.70) rotate(-45)">TR51-220bp</text>
<rect x="543.72" y="399.80" width="2.75" height="62.90" fill="#1F7E7F" stroke="#2A2A2A" stroke-width="0.55"/>
<rect x="548.62" y="370.46" width="2.75" height="92.24" fill="#EE9630" stroke="#2A2A2A" stroke-width="0.55"/>
<line x1="547.54" y1="462.70" x2="547.54" y2="466.00" stroke="#555555" stroke-width="0.9"/>
<text x="0.00" y="0.00" font-size="8.1" text-anchor="end" fill="#222222" transform="translate(549.64,472.70) rotate(-45)">TR201-10kbp</text>
<rect x="556.91" y="406.19" width="2.75" height="56.51" fill="#1F7E7F" stroke="#2A2A2A" stroke-width="0.55"/>
<rect x="561.80" y="371.71" width="2.75" height="90.99" fill="#EE9630" stroke="#2A2A2A" stroke-width="0.55"/>
<line x1="560.73" y1="462.70" x2="560.73" y2="466.00" stroke="#555555" stroke-width="0.9"/>
<text x="0.00" y="0.00" font-size="8.1" text-anchor="end" fill="#222222" transform="translate(562.83,472.70) rotate(-45)">TR_gt100bp</text>
<rect x="570.10" y="410.07" width="2.75" height="52.63" fill="#1F7E7F" stroke="#2A2A2A" stroke-width="0.55"/>
<rect x="575.00" y="379.36" width="2.75" height="83.34" fill="#EE9630" stroke="#2A2A2A" stroke-width="0.55"/>
<line x1="573.92" y1="462.70" x2="573.92" y2="466.00" stroke="#555555" stroke-width="0.9"/>
<text x="0.00" y="0.00" font-size="8.1" text-anchor="end" fill="#222222" transform="translate(576.02,472.70) rotate(-45)">TR_and_Homopol</text>
<rect x="583.29" y="397.81" width="2.75" height="64.89" fill="#1F7E7F" stroke="#2A2A2A" stroke-width="0.55"/>
<rect x="588.18" y="375.49" width="2.75" height="87.21" fill="#EE9630" stroke="#2A2A2A" stroke-width="0.55"/>
<line x1="587.11" y1="462.70" x2="587.11" y2="466.00" stroke="#555555" stroke-width="0.9"/>
<text x="0.00" y="0.00" font-size="8.1" text-anchor="end" fill="#222222" transform="translate(589.21,472.70) rotate(-45)">ChainSelf</text>
<rect x="596.48" y="406.19" width="2.75" height="56.51" fill="#1F7E7F" stroke="#2A2A2A" stroke-width="0.55"/>
<rect x="601.38" y="376.64" width="2.75" height="86.06" fill="#EE9630" stroke="#2A2A2A" stroke-width="0.55"/>
<line x1="600.30" y1="462.70" x2="600.30" y2="466.00" stroke="#555555" stroke-width="0.9"/>
<text x="0.00" y="0.00" font-size="8.1" text-anchor="end" fill="#222222" transform="translate(602.40,472.70) rotate(-45)">ChainSelf_gt10kb</text>
<rect x="609.67" y="400.43" width="2.75" height="62.27" fill="#1F7E7F" stroke="#2A2A2A" stroke-width="0.55"/>
<rect x="614.56" y="379.15" width="2.75" height="83.55" fill="#EE9630" stroke="#2A2A2A" stroke-width="0.55"/>
<line x1="613.49" y1="462.70" x2="613.49" y2="466.00" stroke="#555555" stroke-width="0.9"/>
<text x="0.00" y="0.00" font-size="8.1" text-anchor="end" fill="#222222" transform="translate(615.59,472.70) rotate(-45)">SegDups</text>
<rect x="622.86" y="406.72" width="2.75" height="55.98" fill="#1F7E7F" stroke="#2A2A2A" stroke-width="0.55"/>
<rect x="627.75" y="378.32" width="2.75" height="84.38" fill="#EE9630" stroke="#2A2A2A" stroke-width="0.55"/>
<line x1="626.68" y1="462.70" x2="626.68" y2="466.00" stroke="#555555" stroke-width="0.9"/>
<text x="0.00" y="0.00" font-size="8.1" text-anchor="end" fill="#222222" transform="translate(628.78,472.70) rotate(-45)">SegDups_gt10kb</text>
<rect x="636.05" y="410.49" width="2.75" height="52.21" fill="#1F7E7F" stroke="#2A2A2A" stroke-width="0.55"/>
<rect x="640.94" y="382.30" width="2.75" height="80.40" fill="#EE9630" stroke="#2A2A2A" stroke-width="0.55"/>
<line x1="639.87" y1="462.70" x2="639.87" y2="466.00" stroke="#555555" stroke-width="0.9"/>
<text x="0.00" y="0.00" font-size="8.1" text-anchor="end" fill="#222222" transform="translate(641.97,472.70) rotate(-45)">LowMap</text>
<rect x="649.24" y="395.82" width="2.75" height="66.88" fill="#1F7E7F" stroke="#2A2A2A" stroke-width="0.55"/>
<rect x="654.13" y="372.13" width="2.75" height="90.57" fill="#EE9630" stroke="#2A2A2A" stroke-width="0.55"/>
<line x1="653.06" y1="462.70" x2="653.06" y2="466.00" stroke="#555555" stroke-width="0.9"/>
<text x="0.00" y="0.00" font-size="8.1" text-anchor="end" fill="#222222" transform="translate(655.16,472.70) rotate(-45)">L1H</text>
<rect x="662.43" y="427.05" width="2.75" height="35.65" fill="#1F7E7F" stroke="#2A2A2A" stroke-width="0.55"/>
<rect x="667.32" y="383.45" width="2.75" height="79.25" fill="#EE9630" stroke="#2A2A2A" stroke-width="0.55"/>
<line x1="666.25" y1="462.70" x2="666.25" y2="466.00" stroke="#555555" stroke-width="0.9"/>
<text x="0.00" y="0.00" font-size="8.1" text-anchor="end" fill="#222222" transform="translate(668.35,472.70) rotate(-45)">MHC</text>
<rect x="675.62" y="376.32" width="2.75" height="86.38" fill="#1F7E7F" stroke="#2A2A2A" stroke-width="0.55"/>
<rect x="680.51" y="363.64" width="2.75" height="99.06" fill="#EE9630" stroke="#2A2A2A" stroke-width="0.55"/>
<line x1="679.44" y1="462.70" x2="679.44" y2="466.00" stroke="#555555" stroke-width="0.9"/>
<text x="0.00" y="0.00" font-size="8.1" text-anchor="end" fill="#222222" transform="translate(681.54,472.70) rotate(-45)">CDS</text>
<line x1="462.25" y1="462.70" x2="684.00" y2="462.70" stroke="#555555" stroke-width="0.9"/>
<rect x="491.60" y="521.00" width="4.80" height="4.60" fill="#1F7E7F" stroke="#2A2A2A" stroke-width="0.5"/>
<text x="503.60" y="526.00" font-size="8.2" text-anchor="start" fill="#222222" >longcallR</text>
<rect x="566.20" y="521.00" width="4.80" height="4.60" fill="#EE9630" stroke="#2A2A2A" stroke-width="0.5"/>
<text x="578.00" y="526.00" font-size="8.2" text-anchor="start" fill="#222222" >Clair3-RNA</text>
</svg>
</body></html>
